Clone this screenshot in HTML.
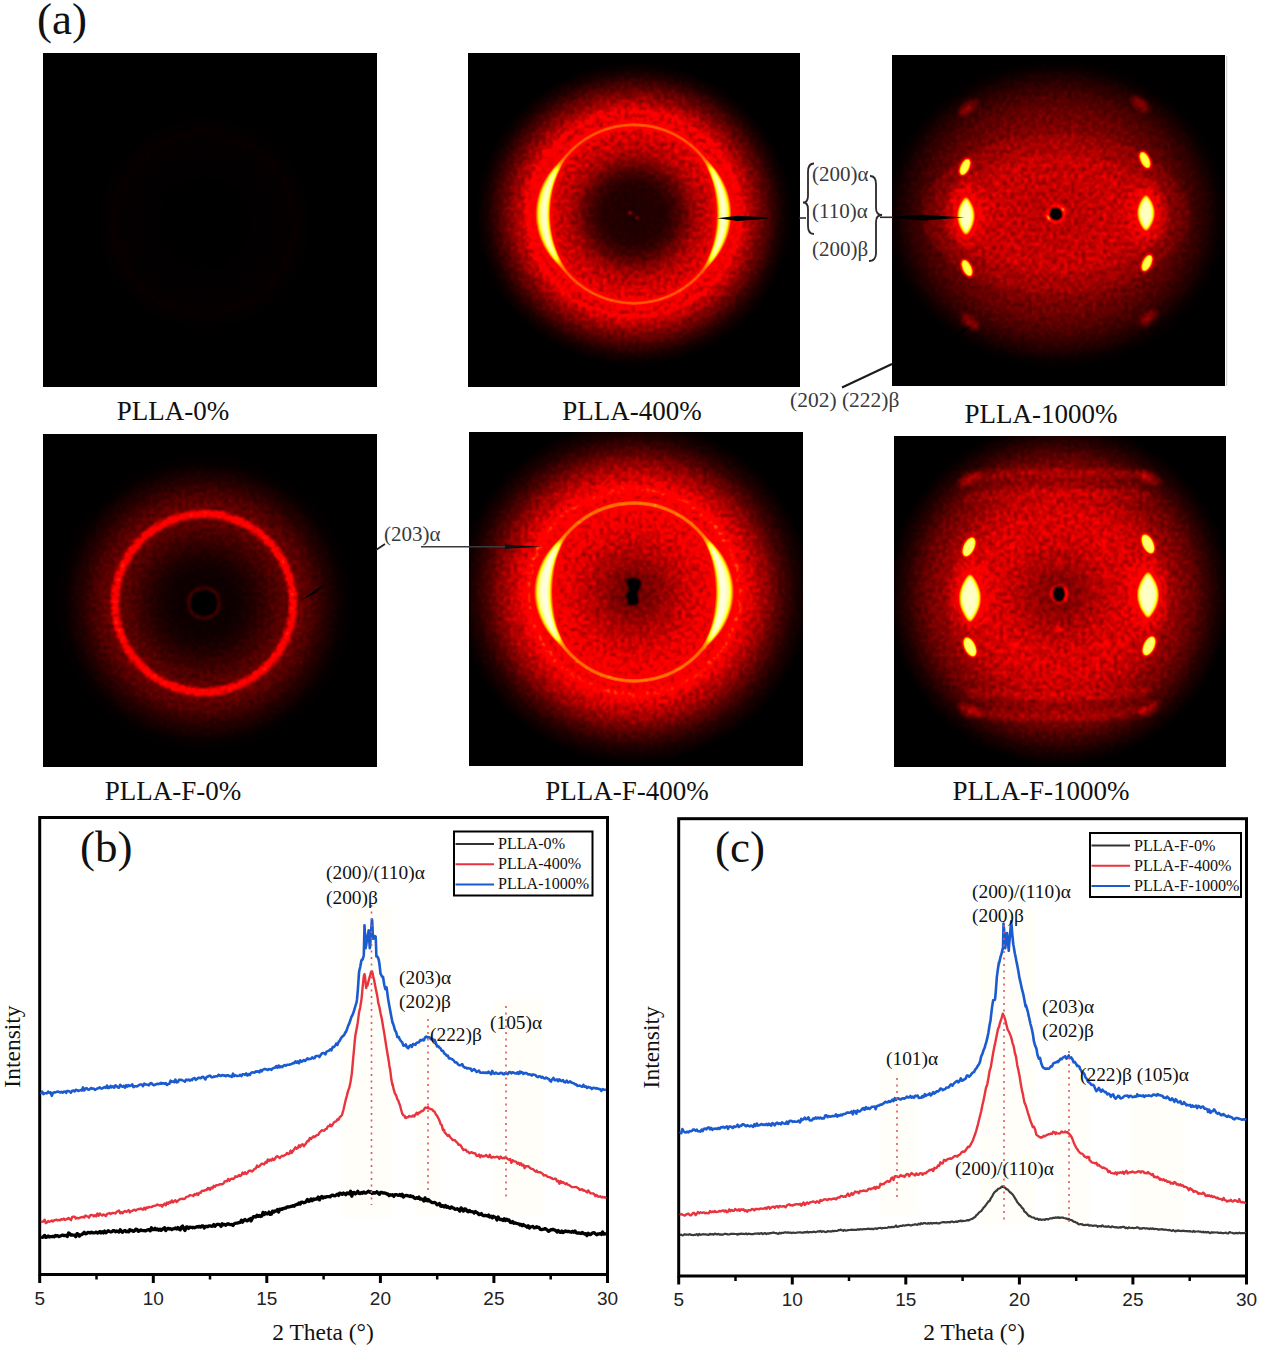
<!DOCTYPE html>
<html><head><meta charset="utf-8"><title>Figure</title>
<style>html,body{margin:0;padding:0;background:#fff;} body{width:1270px;height:1348px;overflow:hidden;font-family:"Liberation Serif",serif;} svg{display:block;}</style>
</head><body>
<svg width="1270" height="1348" viewBox="0 0 1270 1348">
<defs>
<filter id="b1" x="-50%" y="-50%" width="200%" height="200%"><feGaussianBlur stdDeviation="1.2"/></filter>
<filter id="b2" x="-50%" y="-50%" width="200%" height="200%"><feGaussianBlur stdDeviation="2.2"/></filter>
<filter id="b3" x="-50%" y="-50%" width="200%" height="200%"><feGaussianBlur stdDeviation="3.5"/></filter>
<filter id="b6" x="-50%" y="-50%" width="200%" height="200%"><feGaussianBlur stdDeviation="7"/></filter>
<radialGradient id="rg1" gradientUnits="userSpaceOnUse" cx="204" cy="223" r="115"><stop offset="0.0000" stop-color="rgb(0,0,0)"/><stop offset="0.5217" stop-color="rgb(1,1,1)"/><stop offset="0.6957" stop-color="rgb(2,2,2)"/><stop offset="0.8000" stop-color="rgb(3,3,3)"/><stop offset="0.8696" stop-color="rgb(1,1,1)"/><stop offset="1.0000" stop-color="rgb(0,0,0)"/></radialGradient>
<filter id="hot1" filterUnits="userSpaceOnUse" x="43" y="53" width="334" height="334" color-interpolation-filters="sRGB">
<feTurbulence type="fractalNoise" baseFrequency="0.28" numOctaves="2" seed="3" result="t"/>
<feColorMatrix in="t" type="matrix" values="1 0 0 0 0  1 0 0 0 0  1 0 0 0 0  0 0 0 0 1" result="n"/>
<feComposite in="SourceGraphic" in2="n" operator="arithmetic" k1="1.5" k2="0.25" k3="0" k4="0" result="m"/>
<feGaussianBlur in="m" stdDeviation="1.0" result="mb"/>
<feComponentTransfer in="mb">
<feFuncR type="table" tableValues="0.000 0.074 0.147 0.221 0.294 0.368 0.441 0.515 0.588 0.662 0.735 0.809 0.882 0.956 1.000 1.000 1.000 1.000 1.000 1.000 1.000 1.000 1.000 1.000 1.000 1.000 1.000 1.000 1.000 1.000 1.000 1.000 1.000 1.000 1.000 1.000 1.000 1.000 1.000 1.000 1.000"/>
<feFuncG type="table" tableValues="0.000 0.000 0.000 0.000 0.000 0.000 0.000 0.000 0.000 0.000 0.000 0.000 0.000 0.000 0.000 0.000 0.000 0.014 0.083 0.153 0.222 0.292 0.361 0.431 0.500 0.569 0.639 0.708 0.778 0.847 0.917 0.986 1.000 1.000 1.000 1.000 1.000 1.000 1.000 1.000 1.000"/>
<feFuncB type="table" tableValues="0.000 0.000 0.000 0.000 0.000 0.000 0.000 0.000 0.000 0.000 0.000 0.000 0.000 0.000 0.000 0.000 0.000 0.000 0.000 0.000 0.000 0.000 0.000 0.000 0.000 0.000 0.000 0.000 0.000 0.000 0.000 0.000 0.091 0.205 0.318 0.432 0.545 0.659 0.773 0.886 1.000"/>
<feFuncA type="table" tableValues="1 1"/>
</feComponentTransfer>
</filter>
<clipPath id="clip1"><rect x="43" y="53" width="334" height="334"/></clipPath>
<radialGradient id="rg2" gradientUnits="userSpaceOnUse" cx="634" cy="214" r="152" gradientTransform="translate(634 214) scale(1.04 1.0) translate(-634 -214)"><stop offset="0.0000" stop-color="rgb(10,10,10)"/><stop offset="0.1974" stop-color="rgb(13,13,13)"/><stop offset="0.2697" stop-color="rgb(23,23,23)"/><stop offset="0.3289" stop-color="rgb(38,38,38)"/><stop offset="0.3816" stop-color="rgb(54,54,54)"/><stop offset="0.4342" stop-color="rgb(64,64,64)"/><stop offset="0.5197" stop-color="rgb(74,74,74)"/><stop offset="0.5625" stop-color="rgb(82,82,82)"/><stop offset="0.5789" stop-color="rgb(97,97,97)"/><stop offset="0.5954" stop-color="rgb(97,97,97)"/><stop offset="0.6118" stop-color="rgb(82,82,82)"/><stop offset="0.6513" stop-color="rgb(74,74,74)"/><stop offset="0.6743" stop-color="rgb(92,92,92)"/><stop offset="0.6974" stop-color="rgb(71,71,71)"/><stop offset="0.7237" stop-color="rgb(64,64,64)"/><stop offset="0.7697" stop-color="rgb(48,48,48)"/><stop offset="0.8487" stop-color="rgb(26,26,26)"/><stop offset="0.9211" stop-color="rgb(9,9,9)"/><stop offset="1.0000" stop-color="rgb(0,0,0)"/></radialGradient>
<filter id="hot2" filterUnits="userSpaceOnUse" x="468" y="53" width="332" height="334" color-interpolation-filters="sRGB">
<feTurbulence type="fractalNoise" baseFrequency="0.28" numOctaves="2" seed="5" result="t"/>
<feColorMatrix in="t" type="matrix" values="1 0 0 0 0  1 0 0 0 0  1 0 0 0 0  0 0 0 0 1" result="n"/>
<feComposite in="SourceGraphic" in2="n" operator="arithmetic" k1="1.5" k2="0.25" k3="0" k4="0" result="m"/>
<feGaussianBlur in="m" stdDeviation="1.0" result="mb"/>
<feComponentTransfer in="mb">
<feFuncR type="table" tableValues="0.000 0.074 0.147 0.221 0.294 0.368 0.441 0.515 0.588 0.662 0.735 0.809 0.882 0.956 1.000 1.000 1.000 1.000 1.000 1.000 1.000 1.000 1.000 1.000 1.000 1.000 1.000 1.000 1.000 1.000 1.000 1.000 1.000 1.000 1.000 1.000 1.000 1.000 1.000 1.000 1.000"/>
<feFuncG type="table" tableValues="0.000 0.000 0.000 0.000 0.000 0.000 0.000 0.000 0.000 0.000 0.000 0.000 0.000 0.000 0.000 0.000 0.000 0.014 0.083 0.153 0.222 0.292 0.361 0.431 0.500 0.569 0.639 0.708 0.778 0.847 0.917 0.986 1.000 1.000 1.000 1.000 1.000 1.000 1.000 1.000 1.000"/>
<feFuncB type="table" tableValues="0.000 0.000 0.000 0.000 0.000 0.000 0.000 0.000 0.000 0.000 0.000 0.000 0.000 0.000 0.000 0.000 0.000 0.000 0.000 0.000 0.000 0.000 0.000 0.000 0.000 0.000 0.000 0.000 0.000 0.000 0.000 0.000 0.091 0.205 0.318 0.432 0.545 0.659 0.773 0.886 1.000"/>
<feFuncA type="table" tableValues="1 1"/>
</feComponentTransfer>
</filter>
<clipPath id="clip2"><rect x="468" y="53" width="332" height="334"/></clipPath>
<filter id="plain2" filterUnits="userSpaceOnUse" x="468" y="53" width="332" height="334" color-interpolation-filters="sRGB">
<feGaussianBlur in="SourceGraphic" stdDeviation="0.7" result="mb"/>
<feComponentTransfer in="mb">
<feFuncR type="table" tableValues="0.000 0.074 0.147 0.221 0.294 0.368 0.441 0.515 0.588 0.662 0.735 0.809 0.882 0.956 1.000 1.000 1.000 1.000 1.000 1.000 1.000 1.000 1.000 1.000 1.000 1.000 1.000 1.000 1.000 1.000 1.000 1.000 1.000 1.000 1.000 1.000 1.000 1.000 1.000 1.000 1.000"/>
<feFuncG type="table" tableValues="0.000 0.000 0.000 0.000 0.000 0.000 0.000 0.000 0.000 0.000 0.000 0.000 0.000 0.000 0.000 0.000 0.000 0.014 0.083 0.153 0.222 0.292 0.361 0.431 0.500 0.569 0.639 0.708 0.778 0.847 0.917 0.986 1.000 1.000 1.000 1.000 1.000 1.000 1.000 1.000 1.000"/>
<feFuncB type="table" tableValues="0.000 0.000 0.000 0.000 0.000 0.000 0.000 0.000 0.000 0.000 0.000 0.000 0.000 0.000 0.000 0.000 0.000 0.000 0.000 0.000 0.000 0.000 0.000 0.000 0.000 0.000 0.000 0.000 0.000 0.000 0.000 0.000 0.091 0.205 0.318 0.432 0.545 0.659 0.773 0.886 1.000"/>
<feFuncA type="table" tableValues="1 1"/>
</feComponentTransfer>
</filter>
<filter id="b10" x="-30%" y="-30%" width="160%" height="160%"><feGaussianBlur stdDeviation="11"/></filter>
<filter id="b12" x="-40%" y="-40%" width="180%" height="180%"><feGaussianBlur stdDeviation="12"/></filter>
<filter id="b16" x="-40%" y="-40%" width="180%" height="180%"><feGaussianBlur stdDeviation="16"/></filter>
<filter id="b8" x="-30%" y="-30%" width="160%" height="160%"><feGaussianBlur stdDeviation="8"/></filter>
<radialGradient id="cdark"><stop offset="0" stop-color="#000" stop-opacity="0.35"/><stop offset="0.6" stop-color="#000" stop-opacity="0.15"/><stop offset="1" stop-color="#000" stop-opacity="0"/></radialGradient>
<radialGradient id="rg3" gradientUnits="userSpaceOnUse" cx="1056" cy="214" r="160" gradientTransform="translate(1056 214) scale(1.08 0.97) translate(-1056 -214)"><stop offset="0.0000" stop-color="rgb(43,43,43)"/><stop offset="0.1875" stop-color="rgb(48,48,48)"/><stop offset="0.3750" stop-color="rgb(51,51,51)"/><stop offset="0.5625" stop-color="rgb(43,43,43)"/><stop offset="0.6875" stop-color="rgb(33,33,33)"/><stop offset="0.7812" stop-color="rgb(23,23,23)"/><stop offset="0.8625" stop-color="rgb(13,13,13)"/><stop offset="0.9375" stop-color="rgb(4,4,4)"/><stop offset="1.0000" stop-color="rgb(0,0,0)"/></radialGradient>
<filter id="hot3" filterUnits="userSpaceOnUse" x="892" y="55" width="333" height="331" color-interpolation-filters="sRGB">
<feTurbulence type="fractalNoise" baseFrequency="0.28" numOctaves="2" seed="9" result="t"/>
<feColorMatrix in="t" type="matrix" values="1 0 0 0 0  1 0 0 0 0  1 0 0 0 0  0 0 0 0 1" result="n"/>
<feComposite in="SourceGraphic" in2="n" operator="arithmetic" k1="1.5" k2="0.25" k3="0" k4="0" result="m"/>
<feGaussianBlur in="m" stdDeviation="1.0" result="mb"/>
<feComponentTransfer in="mb">
<feFuncR type="table" tableValues="0.000 0.074 0.147 0.221 0.294 0.368 0.441 0.515 0.588 0.662 0.735 0.809 0.882 0.956 1.000 1.000 1.000 1.000 1.000 1.000 1.000 1.000 1.000 1.000 1.000 1.000 1.000 1.000 1.000 1.000 1.000 1.000 1.000 1.000 1.000 1.000 1.000 1.000 1.000 1.000 1.000"/>
<feFuncG type="table" tableValues="0.000 0.000 0.000 0.000 0.000 0.000 0.000 0.000 0.000 0.000 0.000 0.000 0.000 0.000 0.000 0.000 0.000 0.014 0.083 0.153 0.222 0.292 0.361 0.431 0.500 0.569 0.639 0.708 0.778 0.847 0.917 0.986 1.000 1.000 1.000 1.000 1.000 1.000 1.000 1.000 1.000"/>
<feFuncB type="table" tableValues="0.000 0.000 0.000 0.000 0.000 0.000 0.000 0.000 0.000 0.000 0.000 0.000 0.000 0.000 0.000 0.000 0.000 0.000 0.000 0.000 0.000 0.000 0.000 0.000 0.000 0.000 0.000 0.000 0.000 0.000 0.000 0.000 0.091 0.205 0.318 0.432 0.545 0.659 0.773 0.886 1.000"/>
<feFuncA type="table" tableValues="1 1"/>
</feComponentTransfer>
</filter>
<clipPath id="clip3"><rect x="892" y="55" width="333" height="331"/></clipPath>
<filter id="plain3" filterUnits="userSpaceOnUse" x="892" y="55" width="333" height="331" color-interpolation-filters="sRGB">
<feGaussianBlur in="SourceGraphic" stdDeviation="0.7" result="mb"/>
<feComponentTransfer in="mb">
<feFuncR type="table" tableValues="0.000 0.074 0.147 0.221 0.294 0.368 0.441 0.515 0.588 0.662 0.735 0.809 0.882 0.956 1.000 1.000 1.000 1.000 1.000 1.000 1.000 1.000 1.000 1.000 1.000 1.000 1.000 1.000 1.000 1.000 1.000 1.000 1.000 1.000 1.000 1.000 1.000 1.000 1.000 1.000 1.000"/>
<feFuncG type="table" tableValues="0.000 0.000 0.000 0.000 0.000 0.000 0.000 0.000 0.000 0.000 0.000 0.000 0.000 0.000 0.000 0.000 0.000 0.014 0.083 0.153 0.222 0.292 0.361 0.431 0.500 0.569 0.639 0.708 0.778 0.847 0.917 0.986 1.000 1.000 1.000 1.000 1.000 1.000 1.000 1.000 1.000"/>
<feFuncB type="table" tableValues="0.000 0.000 0.000 0.000 0.000 0.000 0.000 0.000 0.000 0.000 0.000 0.000 0.000 0.000 0.000 0.000 0.000 0.000 0.000 0.000 0.000 0.000 0.000 0.000 0.000 0.000 0.000 0.000 0.000 0.000 0.000 0.000 0.091 0.205 0.318 0.432 0.545 0.659 0.773 0.886 1.000"/>
<feFuncA type="table" tableValues="1 1"/>
</feComponentTransfer>
</filter>
<radialGradient id="rg4" gradientUnits="userSpaceOnUse" cx="204" cy="603" r="150"><stop offset="0.0000" stop-color="rgb(0,0,0)"/><stop offset="0.0800" stop-color="rgb(0,0,0)"/><stop offset="0.1000" stop-color="rgb(26,26,26)"/><stop offset="0.1200" stop-color="rgb(5,5,5)"/><stop offset="0.2000" stop-color="rgb(5,5,5)"/><stop offset="0.3000" stop-color="rgb(9,9,9)"/><stop offset="0.4000" stop-color="rgb(18,18,18)"/><stop offset="0.5000" stop-color="rgb(28,28,28)"/><stop offset="0.5567" stop-color="rgb(33,33,33)"/><stop offset="0.5767" stop-color="rgb(84,84,84)"/><stop offset="0.5933" stop-color="rgb(105,105,105)"/><stop offset="0.6100" stop-color="rgb(84,84,84)"/><stop offset="0.6300" stop-color="rgb(36,36,36)"/><stop offset="0.7200" stop-color="rgb(26,26,26)"/><stop offset="0.8133" stop-color="rgb(13,13,13)"/><stop offset="0.9200" stop-color="rgb(3,3,3)"/><stop offset="1.0000" stop-color="rgb(0,0,0)"/></radialGradient>
<filter id="hot4" filterUnits="userSpaceOnUse" x="43" y="434" width="334" height="333" color-interpolation-filters="sRGB">
<feTurbulence type="fractalNoise" baseFrequency="0.28" numOctaves="2" seed="11" result="t"/>
<feColorMatrix in="t" type="matrix" values="1 0 0 0 0  1 0 0 0 0  1 0 0 0 0  0 0 0 0 1" result="n"/>
<feComposite in="SourceGraphic" in2="n" operator="arithmetic" k1="1.5" k2="0.25" k3="0" k4="0" result="m"/>
<feGaussianBlur in="m" stdDeviation="1.0" result="mb"/>
<feComponentTransfer in="mb">
<feFuncR type="table" tableValues="0.000 0.074 0.147 0.221 0.294 0.368 0.441 0.515 0.588 0.662 0.735 0.809 0.882 0.956 1.000 1.000 1.000 1.000 1.000 1.000 1.000 1.000 1.000 1.000 1.000 1.000 1.000 1.000 1.000 1.000 1.000 1.000 1.000 1.000 1.000 1.000 1.000 1.000 1.000 1.000 1.000"/>
<feFuncG type="table" tableValues="0.000 0.000 0.000 0.000 0.000 0.000 0.000 0.000 0.000 0.000 0.000 0.000 0.000 0.000 0.000 0.000 0.000 0.014 0.083 0.153 0.222 0.292 0.361 0.431 0.500 0.569 0.639 0.708 0.778 0.847 0.917 0.986 1.000 1.000 1.000 1.000 1.000 1.000 1.000 1.000 1.000"/>
<feFuncB type="table" tableValues="0.000 0.000 0.000 0.000 0.000 0.000 0.000 0.000 0.000 0.000 0.000 0.000 0.000 0.000 0.000 0.000 0.000 0.000 0.000 0.000 0.000 0.000 0.000 0.000 0.000 0.000 0.000 0.000 0.000 0.000 0.000 0.000 0.091 0.205 0.318 0.432 0.545 0.659 0.773 0.886 1.000"/>
<feFuncA type="table" tableValues="1 1"/>
</feComponentTransfer>
</filter>
<clipPath id="clip4"><rect x="43" y="434" width="334" height="333"/></clipPath>
<radialGradient id="rg5" gradientUnits="userSpaceOnUse" cx="634" cy="592" r="172" gradientTransform="translate(634 592) scale(1.03 1.0) translate(-634 -592)"><stop offset="0.0000" stop-color="rgb(36,36,36)"/><stop offset="0.1163" stop-color="rgb(43,43,43)"/><stop offset="0.1628" stop-color="rgb(51,51,51)"/><stop offset="0.2326" stop-color="rgb(61,61,61)"/><stop offset="0.3081" stop-color="rgb(71,71,71)"/><stop offset="0.4186" stop-color="rgb(82,82,82)"/><stop offset="0.4942" stop-color="rgb(84,84,84)"/><stop offset="0.5087" stop-color="rgb(102,102,102)"/><stop offset="0.5203" stop-color="rgb(102,102,102)"/><stop offset="0.5349" stop-color="rgb(87,87,87)"/><stop offset="0.5698" stop-color="rgb(84,84,84)"/><stop offset="0.5959" stop-color="rgb(115,115,115)"/><stop offset="0.6221" stop-color="rgb(84,84,84)"/><stop offset="0.6744" stop-color="rgb(69,69,69)"/><stop offset="0.7442" stop-color="rgb(51,51,51)"/><stop offset="0.8198" stop-color="rgb(28,28,28)"/><stop offset="0.9070" stop-color="rgb(10,10,10)"/><stop offset="1.0000" stop-color="rgb(0,0,0)"/></radialGradient>
<filter id="hot5" filterUnits="userSpaceOnUse" x="469" y="432" width="334" height="334" color-interpolation-filters="sRGB">
<feTurbulence type="fractalNoise" baseFrequency="0.28" numOctaves="2" seed="13" result="t"/>
<feColorMatrix in="t" type="matrix" values="1 0 0 0 0  1 0 0 0 0  1 0 0 0 0  0 0 0 0 1" result="n"/>
<feComposite in="SourceGraphic" in2="n" operator="arithmetic" k1="1.5" k2="0.25" k3="0" k4="0" result="m"/>
<feGaussianBlur in="m" stdDeviation="1.0" result="mb"/>
<feComponentTransfer in="mb">
<feFuncR type="table" tableValues="0.000 0.074 0.147 0.221 0.294 0.368 0.441 0.515 0.588 0.662 0.735 0.809 0.882 0.956 1.000 1.000 1.000 1.000 1.000 1.000 1.000 1.000 1.000 1.000 1.000 1.000 1.000 1.000 1.000 1.000 1.000 1.000 1.000 1.000 1.000 1.000 1.000 1.000 1.000 1.000 1.000"/>
<feFuncG type="table" tableValues="0.000 0.000 0.000 0.000 0.000 0.000 0.000 0.000 0.000 0.000 0.000 0.000 0.000 0.000 0.000 0.000 0.000 0.014 0.083 0.153 0.222 0.292 0.361 0.431 0.500 0.569 0.639 0.708 0.778 0.847 0.917 0.986 1.000 1.000 1.000 1.000 1.000 1.000 1.000 1.000 1.000"/>
<feFuncB type="table" tableValues="0.000 0.000 0.000 0.000 0.000 0.000 0.000 0.000 0.000 0.000 0.000 0.000 0.000 0.000 0.000 0.000 0.000 0.000 0.000 0.000 0.000 0.000 0.000 0.000 0.000 0.000 0.000 0.000 0.000 0.000 0.000 0.000 0.091 0.205 0.318 0.432 0.545 0.659 0.773 0.886 1.000"/>
<feFuncA type="table" tableValues="1 1"/>
</feComponentTransfer>
</filter>
<clipPath id="clip5"><rect x="469" y="432" width="334" height="334"/></clipPath>
<filter id="plain5" filterUnits="userSpaceOnUse" x="469" y="432" width="334" height="334" color-interpolation-filters="sRGB">
<feGaussianBlur in="SourceGraphic" stdDeviation="0.7" result="mb"/>
<feComponentTransfer in="mb">
<feFuncR type="table" tableValues="0.000 0.074 0.147 0.221 0.294 0.368 0.441 0.515 0.588 0.662 0.735 0.809 0.882 0.956 1.000 1.000 1.000 1.000 1.000 1.000 1.000 1.000 1.000 1.000 1.000 1.000 1.000 1.000 1.000 1.000 1.000 1.000 1.000 1.000 1.000 1.000 1.000 1.000 1.000 1.000 1.000"/>
<feFuncG type="table" tableValues="0.000 0.000 0.000 0.000 0.000 0.000 0.000 0.000 0.000 0.000 0.000 0.000 0.000 0.000 0.000 0.000 0.000 0.014 0.083 0.153 0.222 0.292 0.361 0.431 0.500 0.569 0.639 0.708 0.778 0.847 0.917 0.986 1.000 1.000 1.000 1.000 1.000 1.000 1.000 1.000 1.000"/>
<feFuncB type="table" tableValues="0.000 0.000 0.000 0.000 0.000 0.000 0.000 0.000 0.000 0.000 0.000 0.000 0.000 0.000 0.000 0.000 0.000 0.000 0.000 0.000 0.000 0.000 0.000 0.000 0.000 0.000 0.000 0.000 0.000 0.000 0.000 0.000 0.091 0.205 0.318 0.432 0.545 0.659 0.773 0.886 1.000"/>
<feFuncA type="table" tableValues="1 1"/>
</feComponentTransfer>
</filter>
<radialGradient id="rg6" gradientUnits="userSpaceOnUse" cx="1059" cy="594" r="172"><stop offset="0.0000" stop-color="rgb(36,36,36)"/><stop offset="0.0872" stop-color="rgb(46,46,46)"/><stop offset="0.2035" stop-color="rgb(59,59,59)"/><stop offset="0.3198" stop-color="rgb(71,71,71)"/><stop offset="0.4651" stop-color="rgb(74,74,74)"/><stop offset="0.5814" stop-color="rgb(64,64,64)"/><stop offset="0.6802" stop-color="rgb(48,48,48)"/><stop offset="0.7733" stop-color="rgb(36,36,36)"/><stop offset="0.8547" stop-color="rgb(20,20,20)"/><stop offset="0.9186" stop-color="rgb(9,9,9)"/><stop offset="1.0000" stop-color="rgb(0,0,0)"/></radialGradient>
<filter id="hot6" filterUnits="userSpaceOnUse" x="894" y="436" width="332" height="331" color-interpolation-filters="sRGB">
<feTurbulence type="fractalNoise" baseFrequency="0.28" numOctaves="2" seed="17" result="t"/>
<feColorMatrix in="t" type="matrix" values="1 0 0 0 0  1 0 0 0 0  1 0 0 0 0  0 0 0 0 1" result="n"/>
<feComposite in="SourceGraphic" in2="n" operator="arithmetic" k1="1.5" k2="0.25" k3="0" k4="0" result="m"/>
<feGaussianBlur in="m" stdDeviation="1.0" result="mb"/>
<feComponentTransfer in="mb">
<feFuncR type="table" tableValues="0.000 0.074 0.147 0.221 0.294 0.368 0.441 0.515 0.588 0.662 0.735 0.809 0.882 0.956 1.000 1.000 1.000 1.000 1.000 1.000 1.000 1.000 1.000 1.000 1.000 1.000 1.000 1.000 1.000 1.000 1.000 1.000 1.000 1.000 1.000 1.000 1.000 1.000 1.000 1.000 1.000"/>
<feFuncG type="table" tableValues="0.000 0.000 0.000 0.000 0.000 0.000 0.000 0.000 0.000 0.000 0.000 0.000 0.000 0.000 0.000 0.000 0.000 0.014 0.083 0.153 0.222 0.292 0.361 0.431 0.500 0.569 0.639 0.708 0.778 0.847 0.917 0.986 1.000 1.000 1.000 1.000 1.000 1.000 1.000 1.000 1.000"/>
<feFuncB type="table" tableValues="0.000 0.000 0.000 0.000 0.000 0.000 0.000 0.000 0.000 0.000 0.000 0.000 0.000 0.000 0.000 0.000 0.000 0.000 0.000 0.000 0.000 0.000 0.000 0.000 0.000 0.000 0.000 0.000 0.000 0.000 0.000 0.000 0.091 0.205 0.318 0.432 0.545 0.659 0.773 0.886 1.000"/>
<feFuncA type="table" tableValues="1 1"/>
</feComponentTransfer>
</filter>
<clipPath id="clip6"><rect x="894" y="436" width="332" height="331"/></clipPath>
<filter id="plain6" filterUnits="userSpaceOnUse" x="894" y="436" width="332" height="331" color-interpolation-filters="sRGB">
<feGaussianBlur in="SourceGraphic" stdDeviation="0.7" result="mb"/>
<feComponentTransfer in="mb">
<feFuncR type="table" tableValues="0.000 0.074 0.147 0.221 0.294 0.368 0.441 0.515 0.588 0.662 0.735 0.809 0.882 0.956 1.000 1.000 1.000 1.000 1.000 1.000 1.000 1.000 1.000 1.000 1.000 1.000 1.000 1.000 1.000 1.000 1.000 1.000 1.000 1.000 1.000 1.000 1.000 1.000 1.000 1.000 1.000"/>
<feFuncG type="table" tableValues="0.000 0.000 0.000 0.000 0.000 0.000 0.000 0.000 0.000 0.000 0.000 0.000 0.000 0.000 0.000 0.000 0.000 0.014 0.083 0.153 0.222 0.292 0.361 0.431 0.500 0.569 0.639 0.708 0.778 0.847 0.917 0.986 1.000 1.000 1.000 1.000 1.000 1.000 1.000 1.000 1.000"/>
<feFuncB type="table" tableValues="0.000 0.000 0.000 0.000 0.000 0.000 0.000 0.000 0.000 0.000 0.000 0.000 0.000 0.000 0.000 0.000 0.000 0.000 0.000 0.000 0.000 0.000 0.000 0.000 0.000 0.000 0.000 0.000 0.000 0.000 0.000 0.000 0.091 0.205 0.318 0.432 0.545 0.659 0.773 0.886 1.000"/>
<feFuncA type="table" tableValues="1 1"/>
</feComponentTransfer>
</filter>
</defs>
<rect x="0" y="0" width="1270" height="1348" fill="#fff"/>
<g clip-path="url(#clip1)" style="isolation:isolate"><g filter="url(#hot1)"><rect x="43" y="53" width="334" height="334" fill="#000"/><rect x="43" y="53" width="334" height="334" fill="url(#rg1)" /></g></g>
<g clip-path="url(#clip2)" style="isolation:isolate"><g filter="url(#hot2)"><rect x="468" y="53" width="332" height="334" fill="#000"/><rect x="468" y="53" width="332" height="334" fill="url(#rg2)" />
<circle cx="630" cy="213" r="1.6" fill="rgb(70,70,70)"/><circle cx="637" cy="218" r="1.6" fill="rgb(70,70,70)"/></g><g filter="url(#plain2)" style="mix-blend-mode:screen"><rect x="468" y="53" width="332" height="334" fill="#000"/><circle cx="634" cy="214" r="89.2" fill="none" stroke="rgb(140,140,140)" stroke-width="5.5" filter="url(#b1)" style="mix-blend-mode:screen"/>
<path d="M563.9,159.2 L559.8,161.2 L556.5,163.8 L553.4,166.7 L550.6,169.9 L548.0,173.3 L545.6,176.8 L543.4,180.6 L541.5,184.4 L539.8,188.4 L538.3,192.5 L537.1,196.7 L536.2,201.0 L535.5,205.3 L535.1,209.6 L535.0,214.0 L535.1,218.4 L535.5,222.7 L536.2,227.0 L537.1,231.3 L538.3,235.5 L539.8,239.6 L541.5,243.6 L543.4,247.4 L545.6,251.2 L548.0,254.7 L550.6,258.1 L553.4,261.3 L556.5,264.2 L559.8,266.8 L563.9,268.8 L563.9,268.8 L562.5,264.9 L561.0,261.3 L559.5,257.7 L558.1,254.1 L556.9,250.5 L555.8,246.9 L554.8,243.3 L553.9,239.6 L553.1,236.0 L552.5,232.3 L551.9,228.7 L551.5,225.0 L551.2,221.3 L551.1,217.7 L551.0,214.0 L551.1,210.3 L551.2,206.7 L551.5,203.0 L551.9,199.3 L552.5,195.7 L553.1,192.0 L553.9,188.4 L554.8,184.7 L555.8,181.1 L556.9,177.5 L558.1,173.9 L559.5,170.3 L561.0,166.7 L562.5,163.1 L563.9,159.2Z" fill="rgb(128,128,128)" filter="url(#b3)" style="mix-blend-mode:screen"/>
<path d="M704.1,159.2 L708.0,161.3 L711.2,164.0 L714.2,167.0 L716.9,170.2 L719.4,173.5 L721.8,177.1 L723.9,180.8 L725.7,184.7 L727.4,188.6 L728.8,192.7 L729.9,196.9 L730.8,201.1 L731.5,205.4 L731.9,209.7 L732.0,214.0 L731.9,218.3 L731.5,222.6 L730.8,226.9 L729.9,231.1 L728.8,235.3 L727.4,239.4 L725.7,243.3 L723.9,247.2 L721.8,250.9 L719.4,254.5 L716.9,257.8 L714.2,261.0 L711.2,264.0 L708.0,266.7 L704.1,268.8 L704.1,268.8 L705.3,264.8 L706.7,261.1 L708.1,257.5 L709.4,253.9 L710.5,250.2 L711.6,246.6 L712.5,243.0 L713.4,239.4 L714.1,235.8 L714.7,232.1 L715.1,228.5 L715.5,224.9 L715.8,221.3 L715.9,217.6 L716.0,214.0 L715.9,210.4 L715.8,206.7 L715.5,203.1 L715.1,199.5 L714.7,195.9 L714.1,192.2 L713.4,188.6 L712.5,185.0 L711.6,181.4 L710.5,177.8 L709.4,174.1 L708.1,170.5 L706.7,166.9 L705.3,163.2 L704.1,159.2Z" fill="rgb(128,128,128)" filter="url(#b3)" style="mix-blend-mode:screen"/>
<path d="M558.9,165.3 L555.8,167.4 L553.2,170.0 L550.9,172.7 L548.7,175.7 L546.7,178.7 L544.9,181.9 L543.3,185.2 L541.8,188.6 L540.6,192.1 L539.5,195.6 L538.6,199.2 L537.9,202.9 L537.4,206.6 L537.1,210.3 L537.0,214.0 L537.1,217.7 L537.4,221.4 L537.9,225.1 L538.6,228.8 L539.5,232.4 L540.6,235.9 L541.8,239.4 L543.3,242.8 L544.9,246.1 L546.7,249.3 L548.7,252.3 L550.9,255.3 L553.2,258.0 L555.8,260.6 L558.9,262.7 L558.9,262.7 L557.9,259.4 L556.7,256.1 L555.6,252.9 L554.6,249.7 L553.6,246.5 L552.7,243.3 L551.9,240.0 L551.2,236.8 L550.6,233.6 L550.1,230.3 L549.7,227.0 L549.4,223.8 L549.2,220.5 L549.0,217.3 L549.0,214.0 L549.0,210.7 L549.2,207.5 L549.4,204.2 L549.7,201.0 L550.1,197.7 L550.6,194.4 L551.2,191.2 L551.9,188.0 L552.7,184.7 L553.6,181.5 L554.6,178.3 L555.6,175.1 L556.7,171.9 L557.9,168.6 L558.9,165.3Z" fill="rgb(209,209,209)" filter="url(#b2)" style="mix-blend-mode:screen"/>
<path d="M708.6,165.5 L711.7,167.7 L714.2,170.3 L716.5,173.1 L718.6,176.0 L720.5,179.0 L722.3,182.2 L723.9,185.5 L725.3,188.9 L726.5,192.3 L727.6,195.8 L728.4,199.4 L729.1,203.0 L729.6,206.6 L729.9,210.3 L730.0,214.0 L729.9,217.7 L729.6,221.4 L729.1,225.0 L728.4,228.6 L727.6,232.2 L726.5,235.7 L725.3,239.1 L723.9,242.5 L722.3,245.8 L720.5,249.0 L718.6,252.0 L716.5,254.9 L714.2,257.7 L711.7,260.3 L708.6,262.5 L708.6,262.5 L709.6,259.0 L710.7,255.8 L711.7,252.6 L712.7,249.4 L713.7,246.2 L714.5,243.0 L715.2,239.8 L715.9,236.6 L716.5,233.3 L716.9,230.1 L717.3,226.9 L717.6,223.7 L717.8,220.5 L718.0,217.2 L718.0,214.0 L718.0,210.8 L717.8,207.5 L717.6,204.3 L717.3,201.1 L716.9,197.9 L716.5,194.7 L715.9,191.4 L715.2,188.2 L714.5,185.0 L713.7,181.8 L712.7,178.6 L711.7,175.4 L710.7,172.2 L709.6,169.0 L708.6,165.5Z" fill="rgb(209,209,209)" filter="url(#b2)" style="mix-blend-mode:screen"/><path d="M561.2,141.2 A103,103 0 0 0 561.2,286.8" fill="none" stroke="rgb(102,102,102)" stroke-width="3" filter="url(#b2)" style="mix-blend-mode:screen"/><path d="M706.8,141.2 A103,103 0 0 1 706.8,286.8" fill="none" stroke="rgb(102,102,102)" stroke-width="3" filter="url(#b2)" style="mix-blend-mode:screen"/></g></g>
<g clip-path="url(#clip3)" style="isolation:isolate"><g filter="url(#hot3)"><rect x="892" y="55" width="333" height="331" fill="#000"/><rect x="892" y="55" width="333" height="331" fill="url(#rg3)" />
<ellipse cx="1056" cy="214" rx="125" ry="70" fill="rgb(18,18,18)" filter="url(#b16)" style="mix-blend-mode:screen"/>
<ellipse cx="966" cy="214" rx="16" ry="30" fill="rgb(36,36,36)" filter="url(#b6)" style="mix-blend-mode:screen"/>
<ellipse cx="1146" cy="214" rx="16" ry="30" fill="rgb(36,36,36)" filter="url(#b6)" style="mix-blend-mode:screen"/>
<circle cx="1050" cy="217" r="3" fill="rgb(128,128,128)" filter="url(#b1)" style="mix-blend-mode:screen"/>
<circle cx="1063" cy="211" r="3" fill="rgb(128,128,128)" filter="url(#b1)" style="mix-blend-mode:screen"/>
<ellipse cx="968" cy="108" rx="11" ry="5" transform="rotate(-40 968 108)" fill="rgb(36,36,36)" filter="url(#b2)" style="mix-blend-mode:screen"/>
<ellipse cx="1140" cy="104" rx="11" ry="5" transform="rotate(40 1140 104)" fill="rgb(36,36,36)" filter="url(#b2)" style="mix-blend-mode:screen"/>
<ellipse cx="970" cy="322" rx="11" ry="5" transform="rotate(40 970 322)" fill="rgb(36,36,36)" filter="url(#b2)" style="mix-blend-mode:screen"/>
<ellipse cx="1148" cy="318" rx="11" ry="5" transform="rotate(-40 1148 318)" fill="rgb(36,36,36)" filter="url(#b2)" style="mix-blend-mode:screen"/>

<circle cx="1056" cy="214" r="8.5" fill="rgb(150,150,150)" filter="url(#b1)" style="mix-blend-mode:screen"/>
<circle cx="1056" cy="214" r="7" fill="#000"/></g><g filter="url(#plain3)" style="mix-blend-mode:screen"><rect x="892" y="55" width="333" height="331" fill="#000"/><path d="M966,195 Q984.125,216 966,237 Q947.875,216 966,195 Z" transform="rotate(0 966 216)" fill="rgb(242,242,242)" filter="url(#b2)" style="mix-blend-mode:screen"/>
<path d="M1146,193 Q1164.125,213 1146,233 Q1127.875,213 1146,193 Z" transform="rotate(0 1146 213)" fill="rgb(242,242,242)" filter="url(#b2)" style="mix-blend-mode:screen"/>
<ellipse cx="965" cy="167" rx="5" ry="9.5" transform="rotate(25 965 167)" fill="rgb(217,217,217)" filter="url(#b1)" style="mix-blend-mode:screen"/>
<ellipse cx="967" cy="268" rx="5" ry="9.5" transform="rotate(-25 967 268)" fill="rgb(217,217,217)" filter="url(#b1)" style="mix-blend-mode:screen"/>
<ellipse cx="1145" cy="160" rx="5" ry="9.5" transform="rotate(-25 1145 160)" fill="rgb(217,217,217)" filter="url(#b1)" style="mix-blend-mode:screen"/>
<ellipse cx="1147" cy="263" rx="5" ry="9.5" transform="rotate(25 1147 263)" fill="rgb(217,217,217)" filter="url(#b1)" style="mix-blend-mode:screen"/></g></g>
<g clip-path="url(#clip4)" style="isolation:isolate"><g filter="url(#hot4)"><rect x="43" y="434" width="334" height="333" fill="#000"/><rect x="43" y="434" width="334" height="333" fill="url(#rg4)" />
<rect x="192" y="592" width="24" height="23" rx="7" fill="#000"/></g></g>
<g clip-path="url(#clip5)" style="isolation:isolate"><g filter="url(#hot5)"><rect x="469" y="432" width="334" height="334" fill="#000"/><rect x="469" y="432" width="334" height="334" fill="url(#rg5)" />
<path d="M626,580 Q634,575 641,581 L640,589 L637,593 L639,603 Q634,608 628,604 L626,594 L629,589 Z" fill="#000"/></g><g filter="url(#plain5)" style="mix-blend-mode:screen"><rect x="469" y="432" width="334" height="334" fill="#000"/><circle cx="634" cy="592" r="89" fill="none" stroke="rgb(148,148,148)" stroke-width="5.8" filter="url(#b1)" style="mix-blend-mode:screen"/>
<path d="M563.9,537.2 L559.7,539.0 L556.2,541.6 L553.1,544.5 L550.1,547.7 L547.4,551.0 L545.0,554.6 L542.7,558.3 L540.7,562.2 L539.0,566.2 L537.5,570.3 L536.2,574.5 L535.3,578.8 L534.6,583.2 L534.1,587.6 L534.0,592.0 L534.1,596.4 L534.6,600.8 L535.3,605.2 L536.2,609.5 L537.5,613.7 L539.0,617.8 L540.7,621.8 L542.7,625.7 L545.0,629.4 L547.4,633.0 L550.1,636.3 L553.1,639.5 L556.2,642.4 L559.7,645.0 L563.9,646.8 L563.9,646.8 L562.9,642.7 L561.5,638.9 L560.3,635.3 L559.1,631.6 L558.0,628.0 L557.0,624.4 L556.2,620.7 L555.4,617.1 L554.8,613.5 L554.2,609.9 L553.8,606.3 L553.4,602.7 L553.2,599.2 L553.0,595.6 L553.0,592.0 L553.0,588.4 L553.2,584.8 L553.4,581.3 L553.8,577.7 L554.2,574.1 L554.8,570.5 L555.4,566.9 L556.2,563.3 L557.0,559.6 L558.0,556.0 L559.1,552.4 L560.3,548.7 L561.5,545.1 L562.9,541.3 L563.9,537.2Z" fill="rgb(128,128,128)" filter="url(#b3)" style="mix-blend-mode:screen"/>
<path d="M704.1,537.2 L708.3,539.0 L711.8,541.6 L714.9,544.5 L717.9,547.7 L720.6,551.0 L723.0,554.6 L725.3,558.3 L727.3,562.2 L729.0,566.2 L730.5,570.3 L731.8,574.5 L732.7,578.8 L733.4,583.2 L733.9,587.6 L734.0,592.0 L733.9,596.4 L733.4,600.8 L732.7,605.2 L731.8,609.5 L730.5,613.7 L729.0,617.8 L727.3,621.8 L725.3,625.7 L723.0,629.4 L720.6,633.0 L717.9,636.3 L714.9,639.5 L711.8,642.4 L708.3,645.0 L704.1,646.8 L704.1,646.8 L705.1,642.7 L706.5,638.9 L707.7,635.3 L708.9,631.6 L710.0,628.0 L711.0,624.4 L711.8,620.7 L712.6,617.1 L713.2,613.5 L713.8,609.9 L714.2,606.3 L714.6,602.7 L714.8,599.2 L715.0,595.6 L715.0,592.0 L715.0,588.4 L714.8,584.8 L714.6,581.3 L714.2,577.7 L713.8,574.1 L713.2,570.5 L712.6,566.9 L711.8,563.3 L711.0,559.6 L710.0,556.0 L708.9,552.4 L707.7,548.7 L706.5,545.1 L705.1,541.3 L704.1,537.2Z" fill="rgb(128,128,128)" filter="url(#b3)" style="mix-blend-mode:screen"/>
<path d="M560.2,542.2 L556.7,544.2 L553.9,546.7 L551.3,549.5 L548.9,552.5 L546.8,555.6 L544.8,558.8 L543.0,562.2 L541.4,565.7 L540.0,569.2 L538.8,572.9 L537.8,576.6 L537.0,580.4 L536.4,584.3 L536.1,588.1 L536.0,592.0 L536.1,595.9 L536.4,599.7 L537.0,603.6 L537.8,607.4 L538.8,611.1 L540.0,614.8 L541.4,618.3 L543.0,621.8 L544.8,625.2 L546.8,628.4 L548.9,631.5 L551.3,634.5 L553.9,637.3 L556.7,639.8 L560.2,641.8 L560.2,641.8 L559.4,638.2 L558.3,634.8 L557.2,631.5 L556.2,628.2 L555.3,624.9 L554.5,621.6 L553.7,618.3 L553.1,615.0 L552.5,611.7 L552.1,608.4 L551.7,605.1 L551.4,601.9 L551.2,598.6 L551.0,595.3 L551.0,592.0 L551.0,588.7 L551.2,585.4 L551.4,582.1 L551.7,578.9 L552.1,575.6 L552.5,572.3 L553.1,569.0 L553.7,565.7 L554.5,562.4 L555.3,559.1 L556.2,555.8 L557.2,552.5 L558.3,549.2 L559.4,545.8 L560.2,542.2Z" fill="rgb(224,224,224)" filter="url(#b2)" style="mix-blend-mode:screen"/>
<path d="M707.8,542.2 L711.3,544.2 L714.1,546.7 L716.7,549.5 L719.1,552.5 L721.2,555.6 L723.2,558.8 L725.0,562.2 L726.6,565.7 L728.0,569.2 L729.2,572.9 L730.2,576.6 L731.0,580.4 L731.6,584.3 L731.9,588.1 L732.0,592.0 L731.9,595.9 L731.6,599.7 L731.0,603.6 L730.2,607.4 L729.2,611.1 L728.0,614.8 L726.6,618.3 L725.0,621.8 L723.2,625.2 L721.2,628.4 L719.1,631.5 L716.7,634.5 L714.1,637.3 L711.3,639.8 L707.8,641.8 L707.8,641.8 L708.6,638.2 L709.7,634.8 L710.8,631.5 L711.8,628.2 L712.7,624.9 L713.5,621.6 L714.3,618.3 L714.9,615.0 L715.5,611.7 L715.9,608.4 L716.3,605.1 L716.6,601.9 L716.8,598.6 L717.0,595.3 L717.0,592.0 L717.0,588.7 L716.8,585.4 L716.6,582.1 L716.3,578.9 L715.9,575.6 L715.5,572.3 L714.9,569.0 L714.3,565.7 L713.5,562.4 L712.7,559.1 L711.8,555.8 L710.8,552.5 L709.7,549.2 L708.6,545.8 L707.8,542.2Z" fill="rgb(224,224,224)" filter="url(#b2)" style="mix-blend-mode:screen"/><path d="M561.2,519.2 A103,103 0 0 0 561.2,664.8" fill="none" stroke="rgb(115,115,115)" stroke-width="3" filter="url(#b2)" style="mix-blend-mode:screen"/><path d="M706.8,519.2 A103,103 0 0 1 706.8,664.8" fill="none" stroke="rgb(115,115,115)" stroke-width="3" filter="url(#b2)" style="mix-blend-mode:screen"/></g></g>
<g clip-path="url(#clip6)" style="isolation:isolate"><g filter="url(#hot6)"><rect x="894" y="436" width="332" height="331" fill="#000"/><rect x="894" y="436" width="332" height="331" fill="url(#rg6)" />
<ellipse cx="970" cy="594" rx="18" ry="34" fill="rgb(31,31,31)" filter="url(#b6)" style="mix-blend-mode:screen"/>
<ellipse cx="1148" cy="594" rx="18" ry="34" fill="rgb(31,31,31)" filter="url(#b6)" style="mix-blend-mode:screen"/>
<path d="M965,478 Q1059,466 1151,476" fill="none" stroke="rgb(31,31,31)" stroke-width="6" stroke-linecap="round" filter="url(#b3)" style="mix-blend-mode:screen"/>
<path d="M967,498 Q1059,488 1149,496" fill="none" stroke="rgb(23,23,23)" stroke-width="6" stroke-linecap="round" filter="url(#b3)" style="mix-blend-mode:screen"/>
<path d="M965,712 Q1059,724 1151,710" fill="none" stroke="rgb(31,31,31)" stroke-width="6" stroke-linecap="round" filter="url(#b3)" style="mix-blend-mode:screen"/>
<path d="M967,692 Q1059,702 1149,690" fill="none" stroke="rgb(23,23,23)" stroke-width="6" stroke-linecap="round" filter="url(#b3)" style="mix-blend-mode:screen"/>
<ellipse cx="969" cy="480" rx="13" ry="5" transform="rotate(-25 969 480)" fill="rgb(26,26,26)" filter="url(#b2)" style="mix-blend-mode:screen"/>
<ellipse cx="1149" cy="478" rx="13" ry="5" transform="rotate(25 1149 478)" fill="rgb(26,26,26)" filter="url(#b2)" style="mix-blend-mode:screen"/>
<ellipse cx="969" cy="710" rx="13" ry="5" transform="rotate(25 969 710)" fill="rgb(26,26,26)" filter="url(#b2)" style="mix-blend-mode:screen"/>
<ellipse cx="1149" cy="708" rx="13" ry="5" transform="rotate(-25 1149 708)" fill="rgb(26,26,26)" filter="url(#b2)" style="mix-blend-mode:screen"/>
<ellipse cx="1014" cy="545" rx="4" ry="3" transform="rotate(0 1014 545)" fill="rgb(36,36,36)" filter="url(#b1)" style="mix-blend-mode:screen"/>
<ellipse cx="1102" cy="544" rx="4" ry="3" transform="rotate(0 1102 544)" fill="rgb(36,36,36)" filter="url(#b1)" style="mix-blend-mode:screen"/>
<ellipse cx="1016" cy="646" rx="4" ry="3" transform="rotate(0 1016 646)" fill="rgb(36,36,36)" filter="url(#b1)" style="mix-blend-mode:screen"/>
<ellipse cx="1104" cy="645" rx="4" ry="3" transform="rotate(0 1104 645)" fill="rgb(36,36,36)" filter="url(#b1)" style="mix-blend-mode:screen"/>
<ellipse cx="1059" cy="564" rx="4" ry="3" transform="rotate(0 1059 564)" fill="rgb(31,31,31)" filter="url(#b1)" style="mix-blend-mode:screen"/>
<ellipse cx="1059" cy="629" rx="4" ry="3" transform="rotate(0 1059 629)" fill="rgb(31,31,31)" filter="url(#b1)" style="mix-blend-mode:screen"/>
<circle cx="1059" cy="594" r="8.5" fill="rgb(140,140,140)" filter="url(#b1)" style="mix-blend-mode:screen"/>
<ellipse cx="1059" cy="594" rx="6.5" ry="8" fill="#000"/></g><g filter="url(#plain6)" style="mix-blend-mode:screen"><rect x="894" y="436" width="332" height="331" fill="#000"/><path d="M970,572 Q992.475,598 970,624 Q947.525,598 970,572 Z" transform="rotate(0 970 598)" fill="rgb(242,242,242)" filter="url(#b2)" style="mix-blend-mode:screen"/>
<path d="M1148,570 Q1170.475,595 1148,620 Q1125.525,595 1148,570 Z" transform="rotate(0 1148 595)" fill="rgb(242,242,242)" filter="url(#b2)" style="mix-blend-mode:screen"/>
<ellipse cx="969" cy="547" rx="6" ry="11" transform="rotate(25 969 547)" fill="rgb(224,224,224)" filter="url(#b1)" style="mix-blend-mode:screen"/>
<ellipse cx="970" cy="647" rx="6" ry="11" transform="rotate(-25 970 647)" fill="rgb(224,224,224)" filter="url(#b1)" style="mix-blend-mode:screen"/>
<ellipse cx="1148" cy="544" rx="6" ry="11" transform="rotate(-25 1148 544)" fill="rgb(224,224,224)" filter="url(#b1)" style="mix-blend-mode:screen"/>
<ellipse cx="1149" cy="646" rx="6" ry="11" transform="rotate(25 1149 646)" fill="rgb(224,224,224)" filter="url(#b1)" style="mix-blend-mode:screen"/></g></g>
<text x="37" y="34" font-family="Liberation Serif, serif" font-size="45" fill="#111" text-anchor="start" >(a)</text>
<text x="173" y="419.5" font-family="Liberation Serif, serif" font-size="27" fill="#111" text-anchor="middle" >PLLA-0%</text>
<text x="632" y="419.5" font-family="Liberation Serif, serif" font-size="27" fill="#111" text-anchor="middle" >PLLA-400%</text>
<text x="1041" y="422.5" font-family="Liberation Serif, serif" font-size="27" fill="#111" text-anchor="middle" >PLLA-1000%</text>
<text x="173" y="800" font-family="Liberation Serif, serif" font-size="27" fill="#111" text-anchor="middle" >PLLA-F-0%</text>
<text x="627" y="800" font-family="Liberation Serif, serif" font-size="27" fill="#111" text-anchor="middle" >PLLA-F-400%</text>
<text x="1041" y="800" font-family="Liberation Serif, serif" font-size="27" fill="#111" text-anchor="middle" >PLLA-F-1000%</text>
<text x="812" y="181" font-family="Liberation Serif, serif" font-size="21" fill="#3a3a3a" text-anchor="start" >(200)α</text>
<text x="812" y="218" font-family="Liberation Serif, serif" font-size="21" fill="#3a3a3a" text-anchor="start" >(110)α</text>
<text x="812" y="256" font-family="Liberation Serif, serif" font-size="21" fill="#3a3a3a" text-anchor="start" >(200)β</text>
<text x="790" y="407" font-family="Liberation Serif, serif" font-size="21.5" fill="#3a3a3a" text-anchor="start" >(202) (222)β</text>
<text x="384" y="541" font-family="Liberation Serif, serif" font-size="21" fill="#3a3a3a" text-anchor="start" >(203)α</text>
<path d="M814,163.5 Q808,163.5 808,172 L808,196 Q808,202.5 803,202.5 Q808,202.5 808,209 L808,226 Q808,234 814,234" fill="none" stroke="#2a2a2a" stroke-width="1.8"/>
<path d="M870,176 Q876,176 876,184 L876,208 Q876,215 882,215 Q876,215 876,222 L876,253 Q876,261 869,261" fill="none" stroke="#2a2a2a" stroke-width="1.8"/>
<line x1="799" y1="218" x2="806" y2="218" stroke="#2a2a2a" stroke-width="1.6"/>
<line x1="880" y1="217.3" x2="894" y2="217.3" stroke="#2a2a2a" stroke-width="1.6"/>
<path d="M717,218.3 L738,215.8 L768,217.6 L768,218.6 L738,221 Z" fill="#000"/>
<path d="M893,216.5 L923,214.8 L964.5,217.4 L923,220.5 L893,218.2 Z" fill="#000"/>
<line x1="1226.6" y1="56" x2="1226.6" y2="386" stroke="#d4d4d4" stroke-width="1.2"/>
<line x1="842" y1="387.5" x2="892" y2="364" stroke="#1a1a1a" stroke-width="2"/>
<path d="M952,337 L965,328 L971,326 L962,334 Z" fill="#000"/>
<line x1="385" y1="544" x2="376" y2="550" stroke="#222" stroke-width="1.8"/>
<path d="M300,601 L318,588 L326,584 L314,594 Z" fill="#000"/>
<line x1="421" y1="546.7" x2="512" y2="546.7" stroke="#3a3a3a" stroke-width="1.4"/>
<path d="M505,544.5 L542,546.7 L505,549 Z" fill="#111"/>
<rect x="39.7" y="817.5" width="567.8" height="457.0" fill="none" stroke="#000" stroke-width="3"/>
<line x1="39.7" y1="1274.5" x2="39.7" y2="1283.0" stroke="#000" stroke-width="3"/>
<text x="39.7" y="1304.5" font-family="Liberation Sans, sans-serif" font-size="19" text-anchor="middle" fill="#222">5</text>
<line x1="96.5" y1="1274.5" x2="96.5" y2="1279.5" stroke="#000" stroke-width="2.5"/>
<line x1="153.3" y1="1274.5" x2="153.3" y2="1283.0" stroke="#000" stroke-width="3"/>
<text x="153.3" y="1304.5" font-family="Liberation Sans, sans-serif" font-size="19" text-anchor="middle" fill="#222">10</text>
<line x1="210.0" y1="1274.5" x2="210.0" y2="1279.5" stroke="#000" stroke-width="2.5"/>
<line x1="266.8" y1="1274.5" x2="266.8" y2="1283.0" stroke="#000" stroke-width="3"/>
<text x="266.8" y="1304.5" font-family="Liberation Sans, sans-serif" font-size="19" text-anchor="middle" fill="#222">15</text>
<line x1="323.6" y1="1274.5" x2="323.6" y2="1279.5" stroke="#000" stroke-width="2.5"/>
<line x1="380.4" y1="1274.5" x2="380.4" y2="1283.0" stroke="#000" stroke-width="3"/>
<text x="380.4" y="1304.5" font-family="Liberation Sans, sans-serif" font-size="19" text-anchor="middle" fill="#222">20</text>
<line x1="437.2" y1="1274.5" x2="437.2" y2="1279.5" stroke="#000" stroke-width="2.5"/>
<line x1="493.9" y1="1274.5" x2="493.9" y2="1283.0" stroke="#000" stroke-width="3"/>
<text x="493.9" y="1304.5" font-family="Liberation Sans, sans-serif" font-size="19" text-anchor="middle" fill="#222">25</text>
<line x1="550.7" y1="1274.5" x2="550.7" y2="1279.5" stroke="#000" stroke-width="2.5"/>
<line x1="607.5" y1="1274.5" x2="607.5" y2="1283.0" stroke="#000" stroke-width="3"/>
<text x="607.5" y="1304.5" font-family="Liberation Sans, sans-serif" font-size="19" text-anchor="middle" fill="#222">30</text>
<rect x="678.7" y="818.7" width="567.8" height="457.29999999999995" fill="none" stroke="#000" stroke-width="3"/>
<line x1="678.7" y1="1276" x2="678.7" y2="1284.5" stroke="#000" stroke-width="3"/>
<text x="678.7" y="1306" font-family="Liberation Sans, sans-serif" font-size="19" text-anchor="middle" fill="#222">5</text>
<line x1="735.5" y1="1276" x2="735.5" y2="1281" stroke="#000" stroke-width="2.5"/>
<line x1="792.3" y1="1276" x2="792.3" y2="1284.5" stroke="#000" stroke-width="3"/>
<text x="792.3" y="1306" font-family="Liberation Sans, sans-serif" font-size="19" text-anchor="middle" fill="#222">10</text>
<line x1="849.0" y1="1276" x2="849.0" y2="1281" stroke="#000" stroke-width="2.5"/>
<line x1="905.8" y1="1276" x2="905.8" y2="1284.5" stroke="#000" stroke-width="3"/>
<text x="905.8" y="1306" font-family="Liberation Sans, sans-serif" font-size="19" text-anchor="middle" fill="#222">15</text>
<line x1="962.6" y1="1276" x2="962.6" y2="1281" stroke="#000" stroke-width="2.5"/>
<line x1="1019.4" y1="1276" x2="1019.4" y2="1284.5" stroke="#000" stroke-width="3"/>
<text x="1019.4" y="1306" font-family="Liberation Sans, sans-serif" font-size="19" text-anchor="middle" fill="#222">20</text>
<line x1="1076.2" y1="1276" x2="1076.2" y2="1281" stroke="#000" stroke-width="2.5"/>
<line x1="1132.9" y1="1276" x2="1132.9" y2="1284.5" stroke="#000" stroke-width="3"/>
<text x="1132.9" y="1306" font-family="Liberation Sans, sans-serif" font-size="19" text-anchor="middle" fill="#222">25</text>
<line x1="1189.7" y1="1276" x2="1189.7" y2="1281" stroke="#000" stroke-width="2.5"/>
<line x1="1246.5" y1="1276" x2="1246.5" y2="1284.5" stroke="#000" stroke-width="3"/>
<text x="1246.5" y="1306" font-family="Liberation Sans, sans-serif" font-size="19" text-anchor="middle" fill="#222">30</text>
<rect x="341" y="906" width="52" height="312" fill="#fffbe6" opacity="0.28"/>
<rect x="416" y="1000" width="25" height="215" fill="#fffbe6" opacity="0.28"/>
<rect x="494" y="1000" width="49" height="215" fill="#fffbe6" opacity="0.28"/>
<rect x="880" y="1060" width="38" height="155" fill="#fffbe6" opacity="0.28"/>
<rect x="980" y="910" width="55" height="315" fill="#fffbe6" opacity="0.28"/>
<rect x="1055" y="1040" width="35" height="185" fill="#fffbe6" opacity="0.28"/>
<rect x="1130" y="1070" width="55" height="155" fill="#fffbe6" opacity="0.28"/>
<polyline points="41.0,1236.7 42.2,1237.4 43.4,1236.9 44.6,1235.4 45.8,1237.4 47.0,1237.0 48.2,1236.0 49.4,1237.0 50.6,1236.7 51.8,1236.6 53.0,1236.3 54.2,1236.8 55.4,1235.5 56.6,1236.0 57.8,1235.7 59.0,1236.6 60.2,1236.0 61.4,1235.6 62.6,1235.1 63.8,1235.5 65.0,1235.7 66.2,1235.4 66.5,1235.6 67.4,1236.4 68.6,1233.0 69.8,1233.7 71.0,1235.1 72.2,1234.8 73.4,1235.2 74.6,1235.1 75.8,1236.7 77.0,1233.6 78.2,1234.2 79.4,1236.2 80.6,1234.8 81.8,1234.7 83.0,1233.5 84.2,1232.3 85.4,1233.8 86.6,1233.6 87.8,1232.3 89.0,1232.6 90.2,1233.0 91.4,1232.1 92.6,1232.8 93.8,1232.8 95.0,1232.7 96.2,1232.1 97.4,1233.0 98.0,1232.4 98.6,1232.7 99.8,1231.6 101.0,1232.9 102.2,1231.7 103.4,1232.9 104.6,1231.1 105.8,1232.8 107.0,1231.9 108.2,1230.7 109.4,1231.5 110.6,1231.8 111.8,1231.9 113.0,1230.7 114.2,1230.6 115.4,1231.7 116.6,1231.0 117.8,1231.6 119.0,1232.1 120.2,1229.8 121.4,1231.5 122.6,1232.3 123.8,1230.9 125.0,1230.4 126.2,1231.7 127.4,1231.2 128.6,1231.8 129.5,1230.9 129.8,1229.6 131.0,1230.7 132.2,1230.4 133.4,1231.4 134.6,1230.8 135.8,1229.1 137.0,1229.5 138.2,1231.3 139.4,1231.0 140.6,1229.8 141.8,1230.3 143.0,1230.6 144.2,1230.6 145.4,1230.9 146.6,1230.3 147.8,1229.9 149.0,1229.7 150.2,1230.8 151.4,1227.8 152.6,1229.6 153.8,1229.7 155.0,1228.3 156.2,1229.8 157.4,1228.9 158.6,1230.2 159.8,1229.2 161.0,1229.3 161.0,1230.4 162.2,1229.6 163.4,1228.4 164.6,1227.8 165.8,1230.6 167.0,1228.9 168.2,1228.3 169.4,1229.0 170.6,1228.7 171.8,1229.6 173.0,1228.8 174.2,1228.7 175.4,1228.0 176.6,1229.0 177.8,1227.6 179.0,1229.1 180.2,1229.8 181.4,1227.0 182.6,1226.1 183.8,1228.8 185.0,1230.4 186.2,1227.2 187.4,1226.9 188.6,1228.5 189.8,1227.1 191.0,1227.3 192.2,1227.4 192.5,1227.7 193.4,1227.3 194.6,1227.8 195.8,1227.3 197.0,1226.6 198.2,1227.0 199.4,1226.3 200.6,1227.1 201.8,1225.9 203.0,1225.8 204.2,1228.0 205.4,1226.5 206.6,1226.4 207.8,1226.8 209.0,1225.8 210.2,1225.9 211.4,1226.3 212.6,1226.1 213.8,1224.6 215.0,1226.3 216.2,1224.9 217.4,1224.3 218.6,1224.3 219.8,1224.7 221.0,1226.4 222.2,1223.7 223.4,1224.8 224.0,1224.6 224.6,1224.5 225.8,1225.2 227.0,1224.1 228.2,1223.7 229.4,1224.3 230.6,1224.6 231.8,1224.5 233.0,1225.5 234.2,1223.8 235.0,1223.5 235.4,1223.3 236.6,1223.1 237.8,1223.0 239.0,1222.6 240.2,1222.4 241.4,1220.3 242.6,1222.2 243.8,1220.4 245.0,1219.5 246.2,1220.6 247.4,1220.8 248.6,1219.6 249.8,1218.9 250.7,1218.5 251.0,1221.0 252.2,1218.8 253.4,1216.7 254.6,1216.6 255.8,1217.0 257.0,1215.2 258.2,1216.4 259.4,1215.5 260.6,1216.6 261.8,1216.0 263.0,1212.4 264.2,1214.5 265.4,1212.7 266.5,1213.8 266.6,1213.9 267.8,1213.9 269.0,1212.1 270.2,1214.4 271.4,1214.2 272.6,1211.1 273.8,1212.1 275.0,1210.8 276.2,1211.0 277.4,1209.6 278.6,1212.0 279.8,1209.1 281.0,1209.4 282.2,1209.3 282.2,1208.7 283.4,1208.7 284.6,1208.1 285.8,1208.1 287.0,1206.8 288.2,1207.0 289.4,1206.9 290.6,1206.4 291.8,1206.3 293.0,1205.6 294.2,1206.2 295.4,1204.8 296.6,1204.6 297.8,1203.8 298.0,1204.3 299.0,1202.9 300.2,1204.1 301.4,1202.2 302.6,1202.2 303.8,1202.8 305.0,1202.4 306.2,1201.4 307.4,1199.5 308.6,1201.4 309.8,1200.9 311.0,1199.0 312.2,1200.7 313.4,1199.0 313.7,1199.6 314.6,1199.5 315.8,1198.9 317.0,1199.0 318.2,1197.1 319.4,1199.9 320.6,1197.5 321.8,1196.4 323.0,1198.1 324.2,1197.0 325.4,1197.4 326.6,1196.6 327.8,1196.6 329.0,1196.7 329.5,1196.4 330.2,1196.9 331.4,1195.6 332.6,1195.1 333.8,1195.7 335.0,1195.8 336.2,1195.0 337.4,1194.3 338.6,1195.4 339.8,1193.1 341.0,1193.6 342.2,1194.4 343.4,1193.0 344.6,1194.1 345.2,1194.0 345.8,1194.7 347.0,1193.0 348.2,1193.1 349.4,1193.9 350.6,1191.3 351.8,1196.2 353.0,1192.6 354.2,1192.5 355.4,1193.9 356.6,1193.0 357.8,1191.3 359.0,1193.4 360.2,1193.6 361.0,1192.8 361.4,1192.5 362.6,1193.2 363.8,1191.9 365.0,1193.1 366.2,1192.8 367.4,1192.0 368.6,1191.3 369.8,1192.4 371.0,1191.8 372.2,1193.4 373.4,1192.6 374.6,1193.2 375.8,1192.6 376.7,1192.5 377.0,1191.8 378.2,1193.2 379.4,1194.3 380.6,1192.5 381.8,1192.5 383.0,1193.1 384.2,1193.0 385.4,1193.1 386.6,1194.1 387.8,1193.9 389.0,1195.7 390.2,1194.7 391.4,1195.2 392.5,1195.0 392.6,1194.7 393.8,1196.4 395.0,1194.7 396.2,1194.6 397.4,1195.1 398.6,1195.4 399.8,1194.4 401.0,1195.7 402.2,1194.3 403.4,1197.1 404.6,1195.9 405.8,1195.5 407.0,1195.4 408.2,1195.9 409.4,1196.2 410.0,1196.5 410.6,1195.8 411.8,1196.6 413.0,1196.5 414.2,1198.0 415.4,1198.5 416.6,1197.7 417.8,1198.4 419.0,1197.1 420.2,1199.2 421.4,1198.9 422.6,1199.7 423.8,1201.0 425.0,1197.9 426.2,1200.5 427.4,1199.6 428.1,1200.8 428.6,1199.8 429.8,1200.9 431.0,1201.9 432.2,1202.7 433.4,1202.7 434.6,1202.4 435.8,1203.1 437.0,1204.8 438.2,1204.5 439.4,1203.4 440.6,1206.0 441.5,1205.5 441.8,1206.4 443.0,1205.6 444.2,1206.9 445.4,1205.5 446.6,1207.2 447.8,1206.5 449.0,1207.8 450.2,1208.3 451.4,1206.9 452.6,1207.8 453.8,1208.1 455.0,1209.3 456.2,1209.1 457.2,1208.7 457.4,1209.2 458.6,1209.6 459.8,1211.1 461.0,1207.9 462.2,1209.2 463.4,1211.1 464.6,1208.9 465.8,1209.2 467.0,1211.0 468.2,1211.7 469.4,1210.4 470.6,1211.7 471.8,1211.6 473.0,1211.8 473.0,1211.8 474.2,1213.0 475.4,1211.6 476.6,1212.6 477.8,1213.1 479.0,1214.6 480.2,1214.4 481.4,1213.6 482.6,1215.3 483.8,1215.8 485.0,1215.4 486.2,1215.6 487.4,1216.0 488.6,1215.0 488.7,1216.5 489.8,1217.0 491.0,1216.2 492.2,1217.9 493.4,1216.3 494.6,1217.2 495.8,1217.5 497.0,1220.0 498.2,1217.0 499.4,1219.1 500.6,1219.7 501.8,1219.4 503.0,1220.4 504.2,1218.7 504.5,1219.7 505.4,1220.6 506.6,1219.2 507.8,1220.3 509.0,1219.9 510.2,1222.3 511.4,1222.5 512.6,1221.5 513.8,1223.3 515.0,1223.0 516.2,1223.2 517.4,1223.7 518.6,1223.8 519.8,1224.9 520.2,1224.4 521.0,1224.3 522.2,1225.8 523.4,1224.6 524.6,1225.7 525.8,1226.0 527.0,1227.2 528.2,1225.7 529.4,1228.0 530.6,1226.8 531.8,1226.7 533.0,1226.5 534.2,1227.8 535.4,1227.5 536.0,1227.6 536.6,1226.7 537.8,1227.4 539.0,1227.5 540.2,1229.3 541.4,1229.7 542.6,1229.4 543.8,1229.2 545.0,1228.6 546.2,1229.2 547.4,1230.1 548.6,1231.4 549.8,1230.5 551.0,1229.6 551.7,1229.9 552.2,1229.5 553.4,1229.4 554.6,1230.1 555.8,1230.5 557.0,1232.1 558.2,1230.6 559.4,1231.9 560.6,1232.4 561.8,1231.0 563.0,1232.5 564.2,1231.8 565.4,1230.9 566.6,1231.6 567.5,1231.5 567.8,1231.3 569.0,1231.5 570.2,1231.9 571.4,1232.3 572.6,1231.3 573.8,1232.2 575.0,1231.0 576.2,1232.7 577.4,1233.2 578.6,1232.9 579.8,1233.1 581.0,1233.5 582.2,1232.4 583.2,1233.1 583.4,1233.6 584.6,1234.1 585.8,1233.6 587.0,1235.6 588.2,1233.3 589.4,1234.3 590.6,1234.6 591.8,1233.4 593.0,1232.8 594.2,1232.6 595.4,1233.8 596.6,1234.7 597.8,1234.0 599.0,1234.0 600.2,1233.5 601.4,1234.4 602.6,1232.0 603.8,1234.1 605.0,1233.9 606.0,1233.9" fill="none" stroke="#000" stroke-width="3.3" stroke-linejoin="round"/>
<polyline points="41.0,1222.2 42.2,1221.6 43.4,1221.5 44.6,1219.7 45.8,1223.1 47.0,1222.4 48.2,1221.0 49.4,1221.8 50.6,1221.2 51.8,1220.4 53.0,1221.5 54.2,1220.3 55.4,1220.1 56.6,1219.6 57.8,1220.5 59.0,1219.9 60.2,1220.3 61.4,1219.1 62.6,1219.6 63.8,1218.6 65.0,1219.9 66.2,1219.2 66.5,1219.0 67.4,1219.2 68.6,1217.9 69.8,1219.2 71.0,1220.2 72.2,1216.9 73.4,1216.7 74.6,1216.7 75.8,1218.5 77.0,1217.8 78.2,1218.4 79.4,1218.0 80.6,1217.4 81.8,1217.3 83.0,1216.8 84.2,1217.5 85.4,1215.6 86.6,1216.1 87.8,1216.5 89.0,1217.7 90.2,1215.3 91.4,1214.9 92.6,1215.2 93.8,1216.4 95.0,1215.2 96.2,1216.4 97.4,1213.5 98.0,1215.0 98.6,1215.8 99.8,1213.6 101.0,1214.8 102.2,1215.5 103.4,1214.4 104.6,1215.0 105.8,1216.1 107.0,1214.1 108.2,1213.5 109.4,1213.0 110.6,1214.0 111.8,1213.2 113.0,1213.0 114.2,1213.0 115.4,1213.5 116.6,1211.9 117.8,1211.3 119.0,1210.4 120.2,1213.3 121.4,1212.2 122.6,1213.3 123.8,1211.8 125.0,1211.0 126.2,1211.9 127.4,1211.2 128.6,1210.1 129.5,1211.0 129.8,1212.5 131.0,1211.1 132.2,1210.9 133.4,1210.1 134.6,1209.6 135.8,1210.7 137.0,1209.7 138.2,1208.9 139.4,1209.2 140.6,1208.4 141.8,1209.1 143.0,1209.7 144.2,1207.8 145.4,1209.5 146.6,1207.4 147.8,1207.9 149.0,1206.8 150.2,1207.1 151.4,1207.1 152.6,1206.4 153.8,1205.9 155.0,1205.7 156.2,1205.3 157.4,1204.4 158.6,1205.2 159.8,1205.5 161.0,1204.9 161.0,1205.5 162.2,1206.7 163.4,1204.6 164.6,1203.6 165.8,1205.3 167.0,1202.5 168.2,1203.9 169.4,1201.9 170.6,1202.7 171.8,1200.4 173.0,1202.5 174.2,1201.2 175.4,1200.2 176.6,1202.1 177.8,1200.9 179.0,1199.9 180.2,1198.9 181.4,1199.1 182.6,1198.6 183.8,1199.0 185.0,1198.6 186.2,1197.0 187.4,1196.7 188.6,1196.3 189.8,1195.2 191.0,1195.4 192.2,1195.4 192.5,1195.4 193.4,1196.2 194.6,1194.0 195.8,1194.7 197.0,1193.3 198.2,1195.0 199.4,1192.7 200.6,1192.7 201.8,1191.0 203.0,1190.6 204.2,1190.9 205.4,1189.9 206.6,1190.1 207.8,1188.0 208.5,1189.0 209.0,1188.0 210.2,1189.8 211.4,1187.6 212.6,1188.3 213.8,1185.8 215.0,1186.8 216.2,1185.3 217.4,1185.1 218.6,1185.1 219.8,1184.3 221.0,1184.3 222.2,1184.2 223.4,1183.6 224.0,1182.8 224.6,1181.4 225.8,1181.3 227.0,1181.2 228.2,1178.9 229.4,1180.7 230.6,1179.3 231.8,1178.6 233.0,1179.1 234.2,1178.2 235.0,1177.3 235.4,1176.3 236.6,1176.9 237.8,1176.4 239.0,1174.9 240.2,1176.1 241.4,1175.2 242.6,1172.6 243.8,1174.0 245.0,1172.3 246.2,1173.9 247.4,1173.1 248.6,1171.0 249.8,1170.7 250.7,1171.0 251.0,1170.7 252.2,1171.5 253.4,1170.2 254.6,1168.6 255.8,1168.6 257.0,1165.6 258.2,1166.8 259.4,1166.4 260.6,1164.8 261.8,1163.6 263.0,1163.9 264.2,1164.4 265.4,1162.3 266.5,1161.6 266.6,1162.8 267.8,1159.4 269.0,1161.0 270.2,1159.6 271.4,1160.5 272.6,1158.6 273.8,1160.1 275.0,1158.8 276.2,1156.7 277.4,1156.1 278.6,1157.1 279.8,1158.1 281.0,1156.6 282.2,1156.0 282.2,1155.8 283.4,1156.1 284.6,1155.2 285.8,1154.6 287.0,1152.9 288.2,1154.1 289.4,1153.6 290.6,1150.6 291.8,1153.0 293.0,1151.0 294.2,1149.2 295.4,1147.3 296.6,1148.8 297.8,1148.0 298.0,1147.4 299.0,1145.3 300.2,1147.0 301.4,1144.8 302.6,1144.2 303.8,1146.2 305.0,1144.8 306.2,1143.0 307.4,1141.0 308.6,1141.2 309.8,1137.9 311.0,1139.1 312.2,1137.6 313.4,1136.3 313.7,1137.2 314.6,1137.0 315.8,1135.9 317.0,1135.1 318.2,1134.9 319.4,1132.7 320.6,1131.5 321.8,1130.2 323.0,1130.6 324.2,1130.7 325.4,1129.1 326.6,1128.9 327.8,1126.4 329.0,1126.1 329.5,1126.1 330.2,1124.5 331.4,1126.3 332.6,1124.7 333.8,1122.5 335.0,1121.7 336.2,1121.4 337.4,1119.3 338.6,1119.7 339.8,1117.0 341.0,1116.2 342.0,1115.0 342.2,1114.2 343.4,1110.0 344.6,1104.8 345.8,1099.6 346.8,1096.0 347.0,1094.9 348.2,1090.7 349.4,1087.4 350.6,1081.5 351.5,1075.7 351.8,1074.1 353.0,1060.1 354.2,1047.6 354.7,1041.7 355.4,1035.2 356.6,1029.1 357.8,1022.2 359.0,1012.6 360.2,1007.4 361.4,999.7 361.5,999.4 362.6,987.6 363.8,976.0 364.5,974.2 365.0,976.7 366.2,988.1 366.3,986.0 367.4,985.6 368.6,980.9 369.8,976.7 371.0,972.0 371.9,972.0 372.2,971.6 373.4,977.4 374.1,980.0 374.6,982.8 375.8,988.9 377.0,994.4 377.8,999.4 378.2,1002.6 379.4,1007.0 380.6,1013.4 381.8,1018.7 383.0,1026.0 383.0,1026.3 384.2,1032.9 385.4,1040.8 386.6,1048.5 387.8,1055.5 389.0,1062.5 389.3,1065.4 390.2,1069.9 391.4,1079.8 392.5,1085.2 392.6,1084.1 393.8,1089.9 395.0,1093.6 396.2,1095.5 397.4,1099.3 398.6,1101.1 398.8,1102.5 399.8,1104.8 401.0,1109.3 402.2,1113.5 403.4,1115.4 404.6,1115.9 405.0,1117.5 405.8,1118.1 407.0,1117.3 408.2,1117.3 409.4,1115.9 410.6,1116.5 411.8,1116.6 413.0,1115.5 414.2,1116.6 415.4,1114.4 416.0,1114.3 416.6,1112.7 417.8,1114.3 419.0,1112.5 420.2,1112.5 421.4,1111.0 422.6,1111.1 423.8,1109.9 425.0,1107.7 426.2,1107.7 427.4,1108.1 428.1,1107.1 428.6,1108.4 429.8,1108.6 431.0,1109.2 432.2,1109.4 433.4,1111.2 434.6,1111.6 435.8,1114.4 437.0,1115.6 438.2,1118.0 438.3,1118.1 439.4,1120.4 440.6,1124.1 441.8,1125.2 443.0,1130.1 444.2,1130.0 444.6,1132.3 445.4,1133.1 446.6,1134.5 447.8,1135.9 449.0,1135.1 450.2,1137.3 451.4,1138.3 452.6,1140.1 453.8,1139.9 454.1,1140.2 455.0,1140.1 456.2,1141.9 457.4,1142.8 458.6,1144.9 459.8,1144.6 461.0,1145.9 462.2,1148.1 463.4,1150.0 464.6,1149.6 465.1,1149.6 465.8,1149.7 467.0,1151.6 468.2,1151.7 469.4,1153.3 470.6,1152.7 471.8,1152.2 473.0,1153.0 474.2,1153.2 475.4,1153.4 476.6,1155.9 477.8,1155.9 479.0,1154.5 480.2,1157.3 480.9,1155.9 481.4,1155.2 482.6,1156.5 483.8,1156.3 485.0,1155.8 486.2,1154.9 487.4,1156.7 488.6,1157.1 489.8,1154.7 491.0,1157.5 492.2,1157.6 493.4,1156.8 494.6,1157.3 495.8,1157.1 497.0,1156.7 498.2,1157.2 499.4,1158.8 500.6,1156.5 501.8,1158.1 503.0,1158.2 504.2,1157.7 504.5,1158.3 505.4,1157.3 506.6,1158.0 507.8,1159.1 509.0,1159.7 510.2,1159.0 511.4,1162.8 512.6,1160.2 513.8,1161.2 515.0,1161.4 516.2,1161.8 517.4,1163.7 518.6,1162.7 519.8,1164.8 520.2,1163.8 521.0,1163.2 522.2,1165.6 523.4,1164.7 524.6,1168.2 525.8,1166.1 527.0,1166.3 528.2,1166.1 529.4,1167.3 530.6,1168.5 531.8,1168.8 533.0,1169.2 534.2,1170.3 535.4,1171.3 536.0,1171.7 536.6,1170.5 537.8,1172.0 539.0,1172.2 540.2,1172.2 541.4,1172.9 542.6,1173.7 543.8,1175.5 545.0,1175.2 546.2,1175.4 547.4,1176.8 548.6,1177.0 549.8,1177.1 551.0,1178.0 551.7,1178.0 552.2,1178.7 553.4,1179.1 554.6,1178.8 555.8,1178.6 557.0,1181.4 558.2,1180.7 559.4,1183.7 560.6,1181.0 561.8,1182.8 563.0,1182.1 564.2,1183.2 565.4,1184.2 566.6,1183.3 567.5,1184.3 567.8,1184.6 569.0,1185.0 570.2,1185.9 571.4,1186.8 572.6,1187.1 573.8,1187.1 575.0,1187.1 576.2,1186.9 577.4,1187.7 578.6,1188.4 579.8,1189.9 581.0,1189.5 582.2,1189.2 583.2,1190.6 583.4,1190.0 584.6,1190.5 585.8,1191.4 587.0,1192.4 588.2,1190.4 589.4,1191.9 590.6,1193.4 591.8,1193.4 593.0,1193.4 594.2,1194.1 595.4,1196.1 596.6,1195.0 597.8,1196.4 599.0,1196.8 600.2,1196.2 601.4,1197.3 602.6,1197.0 603.8,1197.2 605.0,1197.1 606.0,1198.4" fill="none" stroke="#e8343f" stroke-width="2.4" stroke-linejoin="round"/>
<polyline points="41.0,1094.0 42.2,1091.7 43.4,1094.1 44.6,1093.2 45.8,1093.2 47.0,1093.2 48.2,1091.6 49.4,1093.0 50.6,1092.3 51.8,1095.8 53.0,1093.0 54.2,1092.4 55.4,1092.4 56.6,1091.9 57.8,1091.5 59.0,1091.9 60.2,1092.5 61.4,1091.8 62.6,1092.7 63.8,1091.6 65.0,1091.7 66.2,1092.8 66.5,1091.5 67.4,1091.0 68.6,1091.1 69.8,1091.6 71.0,1092.7 72.2,1090.7 73.4,1090.6 74.6,1091.5 75.8,1089.8 77.0,1090.2 78.2,1091.0 79.4,1090.6 80.6,1090.1 81.8,1090.5 83.0,1087.4 84.2,1090.5 85.4,1088.7 86.6,1088.0 87.8,1089.5 89.0,1089.7 90.2,1088.6 91.4,1088.0 92.6,1088.8 93.8,1088.6 95.0,1089.8 96.2,1089.1 97.4,1088.5 98.0,1088.3 98.6,1088.1 99.8,1087.4 101.0,1088.5 102.2,1088.5 103.4,1087.7 104.6,1087.1 105.8,1087.9 107.0,1085.5 108.2,1088.1 109.4,1087.8 110.6,1085.9 111.8,1087.3 113.0,1086.3 114.2,1087.7 115.4,1085.3 116.6,1086.1 117.8,1087.4 119.0,1087.7 120.2,1084.8 121.4,1086.2 122.6,1086.8 123.8,1085.9 125.0,1087.7 126.2,1085.2 127.4,1086.5 128.6,1085.2 129.5,1086.0 129.8,1086.0 131.0,1085.6 132.2,1084.3 133.4,1087.1 134.6,1086.3 135.8,1086.2 137.0,1086.4 138.2,1085.7 139.4,1084.8 140.6,1084.5 141.8,1084.5 143.0,1086.2 144.2,1083.7 145.4,1084.4 146.6,1084.5 147.8,1084.9 149.0,1085.1 150.2,1083.5 151.4,1083.0 152.6,1084.4 153.8,1085.3 155.0,1084.8 156.2,1084.2 157.4,1083.7 158.6,1084.1 159.8,1083.5 161.0,1083.6 161.0,1082.9 162.2,1083.6 163.4,1083.2 164.6,1083.7 165.8,1083.2 167.0,1085.0 168.2,1084.0 169.4,1083.8 170.6,1080.6 171.8,1081.9 173.0,1081.4 174.2,1082.2 175.4,1079.6 176.6,1082.4 177.8,1082.1 179.0,1079.8 180.2,1079.9 181.4,1079.9 182.6,1080.4 183.8,1080.7 185.0,1081.7 186.2,1079.6 187.4,1080.2 188.6,1079.5 189.8,1080.7 191.0,1079.7 192.2,1080.1 192.5,1078.9 193.4,1078.6 194.6,1078.0 195.8,1079.8 197.0,1078.9 198.2,1077.9 199.4,1077.7 200.6,1078.3 201.8,1077.2 203.0,1076.8 204.2,1077.9 205.4,1079.4 206.6,1077.0 207.8,1076.6 209.0,1075.9 210.2,1075.7 211.4,1077.1 212.6,1077.3 213.8,1076.5 215.0,1076.6 216.2,1076.3 217.4,1076.3 218.6,1074.7 219.8,1075.6 221.0,1076.0 222.2,1075.1 223.4,1075.3 224.0,1075.7 224.6,1075.4 225.8,1076.3 227.0,1075.2 228.2,1075.4 229.4,1076.2 230.6,1076.0 231.8,1076.9 233.0,1073.6 234.2,1076.1 235.0,1075.3 235.4,1075.4 236.6,1075.9 237.8,1076.0 239.0,1075.8 240.2,1074.9 241.4,1076.0 242.6,1074.2 243.8,1074.2 245.0,1074.8 246.2,1073.4 247.4,1075.5 248.6,1074.2 249.8,1075.0 251.0,1072.9 252.2,1072.3 253.4,1072.5 254.6,1072.7 255.8,1071.3 257.0,1071.8 258.2,1071.2 259.4,1072.3 260.6,1070.1 261.8,1071.3 263.0,1069.6 264.2,1069.1 265.4,1069.0 266.5,1069.4 266.6,1069.5 267.8,1070.0 269.0,1069.0 270.2,1069.2 271.4,1069.8 272.6,1068.4 273.8,1068.1 275.0,1067.5 276.2,1066.1 277.4,1067.8 278.6,1065.5 279.8,1067.3 281.0,1066.4 282.2,1067.2 283.4,1065.9 284.6,1065.0 285.8,1065.7 287.0,1064.7 288.2,1064.7 289.4,1064.7 290.6,1064.2 291.8,1063.9 293.0,1063.1 294.2,1063.3 295.4,1061.4 296.6,1062.7 297.8,1061.5 298.0,1062.5 299.0,1063.3 300.2,1060.3 301.4,1061.7 302.6,1061.2 303.8,1060.0 305.0,1061.0 306.2,1059.9 307.4,1058.4 308.6,1059.3 309.8,1059.0 311.0,1058.8 312.2,1057.3 313.4,1058.4 314.6,1058.1 315.8,1056.0 317.0,1056.0 318.2,1056.0 318.5,1055.9 319.4,1057.0 320.6,1055.1 321.8,1053.5 323.0,1053.1 324.2,1053.1 325.4,1054.4 326.6,1051.6 327.8,1051.1 329.0,1050.6 330.2,1049.3 331.4,1050.4 332.6,1047.1 333.8,1047.2 335.0,1045.7 335.8,1044.9 336.2,1043.5 337.4,1044.9 338.6,1041.9 339.8,1040.6 341.0,1038.2 342.2,1036.6 343.4,1035.8 344.6,1034.2 345.2,1032.3 345.8,1032.2 347.0,1029.2 348.2,1025.6 349.4,1023.1 350.6,1019.5 351.5,1016.5 351.8,1016.3 353.0,1013.9 354.2,1010.1 355.4,1006.0 356.6,1002.1 357.0,999.4 357.8,990.4 359.0,972.9 359.3,970.5 360.2,967.1 361.4,960.4 362.3,959.3 362.6,959.6 363.7,955.6 363.8,955.1 364.5,925.2 365.0,934.7 365.6,948.2 366.2,945.1 367.4,936.7 368.6,931.2 368.6,930.4 369.8,948.2 370.0,947.5 371.0,933.1 371.9,919.3 372.2,920.9 373.0,938.6 373.4,938.6 374.6,936.1 375.6,936.4 375.8,939.7 376.4,956.4 377.0,956.1 378.2,958.0 378.6,959.3 379.4,963.6 380.6,974.2 380.8,974.2 381.8,976.0 383.0,977.9 383.0,976.8 384.2,984.5 385.3,989.0 385.4,989.2 386.4,987.5 386.6,987.4 387.8,996.7 388.2,999.4 389.0,1004.1 390.2,1010.6 391.4,1016.9 392.5,1022.8 392.6,1022.2 393.8,1025.9 395.0,1030.3 396.2,1032.2 397.4,1037.1 398.6,1037.5 398.8,1037.0 399.8,1039.4 401.0,1041.1 402.2,1042.3 403.4,1045.6 404.6,1045.4 405.8,1044.4 406.7,1047.2 407.0,1046.7 408.2,1048.3 409.4,1046.1 410.6,1045.2 411.8,1046.9 413.0,1044.0 414.2,1044.4 415.4,1044.9 416.1,1043.3 416.6,1043.0 417.8,1042.5 419.0,1042.3 420.2,1040.1 421.4,1040.5 422.6,1039.6 423.8,1040.4 425.0,1037.5 426.2,1036.5 427.4,1037.7 428.1,1037.0 428.6,1037.3 429.8,1037.5 431.0,1039.2 432.2,1038.7 433.4,1040.4 434.6,1039.8 435.8,1042.8 437.0,1046.4 438.2,1046.1 439.4,1047.6 440.6,1048.5 441.5,1050.4 441.8,1050.8 443.0,1050.7 444.2,1053.4 445.4,1054.1 446.6,1055.6 447.8,1055.5 449.0,1058.5 450.2,1058.4 451.4,1058.9 452.6,1059.5 453.8,1060.6 455.0,1062.4 456.2,1062.2 457.2,1063.0 457.4,1063.6 458.6,1064.9 459.8,1065.2 461.0,1065.1 462.2,1064.1 463.4,1066.6 464.6,1067.6 465.8,1067.6 467.0,1068.5 468.2,1068.1 469.4,1068.6 470.6,1068.5 471.8,1070.9 473.0,1070.0 473.0,1069.6 474.2,1069.1 475.4,1070.4 476.6,1072.0 477.8,1071.4 479.0,1070.6 480.2,1072.6 481.4,1072.8 482.6,1072.6 483.8,1072.6 485.0,1073.0 486.2,1072.6 487.4,1073.0 488.6,1071.7 488.7,1072.4 489.8,1072.7 491.0,1074.3 492.2,1070.9 493.4,1073.3 494.6,1073.7 495.8,1072.6 497.0,1073.4 498.2,1073.7 499.4,1073.6 500.6,1072.7 501.8,1073.0 503.0,1074.1 504.2,1074.3 504.5,1073.2 505.4,1073.3 506.6,1073.4 507.8,1074.1 509.0,1072.3 510.2,1072.1 511.4,1073.3 512.6,1072.3 513.8,1072.7 515.0,1073.3 516.2,1073.6 517.4,1072.3 518.6,1073.9 519.8,1071.7 520.2,1073.2 521.0,1071.9 522.2,1072.2 523.4,1073.9 524.6,1073.1 525.8,1073.0 527.0,1073.5 528.2,1074.4 529.4,1074.2 530.6,1074.5 531.8,1075.7 533.0,1074.4 534.2,1074.8 535.4,1075.0 536.0,1075.6 536.6,1076.6 537.8,1077.1 539.0,1076.2 540.2,1076.4 541.4,1077.6 542.6,1076.9 543.8,1078.2 545.0,1078.5 546.2,1077.6 547.4,1078.4 548.6,1078.7 549.8,1080.6 551.0,1081.6 551.7,1079.5 552.2,1079.6 553.4,1077.9 554.6,1080.2 555.8,1080.2 557.0,1079.4 558.2,1081.2 559.4,1079.3 560.6,1080.7 561.8,1081.1 563.0,1080.1 564.2,1082.1 565.4,1082.4 566.6,1080.6 567.5,1081.9 567.8,1082.5 569.0,1082.2 570.2,1081.4 571.4,1082.5 572.6,1083.0 573.8,1083.3 575.0,1084.4 576.2,1084.4 577.4,1085.9 578.6,1085.8 579.8,1085.6 581.0,1086.2 582.2,1086.7 583.2,1085.8 583.4,1084.8 584.6,1086.8 585.8,1086.4 587.0,1088.0 588.2,1086.9 589.4,1087.5 590.6,1087.6 591.8,1089.0 593.0,1087.9 594.2,1087.8 595.4,1088.5 596.6,1088.1 597.8,1088.8 599.0,1088.9 600.2,1089.3 601.4,1090.9 602.6,1089.1 603.8,1089.7 605.0,1089.7 606.0,1090.0" fill="none" stroke="#1b5bd0" stroke-width="2.6" stroke-linejoin="round"/>
<polyline points="680.0,1234.8 681.2,1234.7 682.4,1235.4 683.6,1235.0 684.8,1234.2 686.0,1234.7 687.2,1234.5 688.4,1234.8 689.6,1234.1 690.8,1234.8 692.0,1234.8 693.2,1235.2 694.4,1234.8 695.6,1234.8 696.8,1234.1 698.0,1235.4 699.2,1233.9 700.4,1235.0 701.6,1234.5 702.8,1234.2 704.0,1234.3 705.2,1234.3 706.4,1234.6 707.6,1234.5 708.8,1235.0 710.0,1233.8 711.2,1234.4 712.4,1234.1 713.6,1234.7 714.8,1233.6 716.0,1234.2 717.2,1234.4 718.4,1233.8 719.6,1234.7 720.8,1234.4 722.0,1234.6 723.2,1234.6 724.4,1233.9 725.6,1233.9 726.8,1234.1 728.0,1234.4 729.2,1234.5 730.4,1233.9 731.6,1233.9 732.8,1233.8 734.0,1233.9 735.2,1234.0 736.4,1234.0 737.6,1234.7 738.0,1234.0 738.8,1233.9 740.0,1234.1 741.2,1233.6 742.4,1233.8 743.6,1233.9 744.8,1234.1 746.0,1233.4 747.2,1234.3 748.4,1233.7 749.6,1233.8 750.8,1234.1 752.0,1234.0 753.2,1234.1 754.4,1233.7 755.6,1233.6 756.8,1233.7 758.0,1233.3 759.2,1234.0 760.4,1233.3 761.6,1233.1 762.8,1234.2 764.0,1233.4 765.2,1233.0 766.4,1234.1 767.6,1233.3 768.8,1233.7 770.0,1233.0 771.2,1233.2 772.4,1232.7 773.6,1232.6 774.8,1232.9 776.0,1233.1 777.2,1233.4 778.4,1233.9 779.6,1232.7 780.8,1233.4 782.0,1232.8 783.2,1232.9 784.4,1232.4 785.6,1232.4 786.8,1232.6 788.0,1232.4 789.2,1232.8 790.4,1232.5 791.6,1233.1 792.8,1232.7 794.0,1232.7 795.2,1233.0 796.4,1232.7 797.6,1232.5 798.8,1232.4 800.0,1232.4 801.0,1232.4 801.2,1232.7 802.4,1232.5 803.6,1232.6 804.8,1232.1 806.0,1232.4 807.2,1231.7 808.4,1232.6 809.6,1232.1 810.8,1232.1 812.0,1232.2 813.2,1231.9 814.4,1231.7 815.6,1232.2 816.8,1231.8 818.0,1231.3 819.2,1231.7 820.4,1230.9 821.6,1232.0 822.8,1231.3 824.0,1231.4 825.2,1232.1 826.4,1232.0 827.6,1231.2 828.8,1231.3 830.0,1231.4 831.2,1231.6 832.4,1230.9 832.5,1230.9 833.6,1231.3 834.8,1230.9 836.0,1231.0 837.2,1230.9 838.4,1230.2 839.6,1230.2 840.8,1229.6 842.0,1230.3 843.2,1230.8 844.4,1229.9 845.6,1230.7 846.8,1230.5 848.0,1230.1 849.2,1230.0 850.4,1230.0 851.6,1229.6 852.8,1229.8 854.0,1229.8 855.2,1229.9 856.4,1229.9 857.6,1229.3 858.8,1229.8 860.0,1229.2 861.2,1229.3 862.4,1229.4 863.6,1229.2 864.8,1229.1 866.0,1229.2 867.2,1228.8 868.4,1228.7 869.6,1228.8 870.8,1229.1 872.0,1228.7 873.2,1229.3 874.4,1228.6 875.0,1228.5 875.6,1228.3 876.8,1228.9 878.0,1228.3 879.2,1228.0 880.4,1227.8 881.6,1228.4 882.8,1228.2 884.0,1228.0 885.2,1227.8 886.4,1228.0 887.6,1227.7 888.8,1226.9 890.0,1227.4 891.2,1227.1 892.4,1226.9 893.6,1227.1 894.8,1226.7 896.0,1225.5 897.2,1227.0 898.4,1226.7 899.6,1226.1 900.8,1225.9 902.0,1226.0 903.2,1225.3 904.4,1225.7 905.6,1225.4 906.8,1225.2 908.0,1224.9 909.2,1224.9 910.4,1225.4 911.6,1225.3 912.8,1224.9 914.0,1224.6 915.2,1224.2 916.4,1224.6 917.6,1224.8 918.8,1223.6 920.0,1224.4 921.2,1223.1 922.2,1223.8 922.4,1223.9 923.6,1223.2 924.8,1223.0 926.0,1223.5 927.2,1223.7 928.4,1223.1 929.6,1223.7 930.8,1222.9 932.0,1223.7 933.2,1223.1 934.4,1223.0 935.6,1223.1 936.8,1222.9 938.0,1223.4 939.2,1223.5 940.4,1222.8 941.6,1222.5 942.8,1222.1 944.0,1222.2 945.2,1222.4 946.4,1222.3 947.6,1222.2 948.8,1222.2 950.0,1222.3 951.2,1221.5 952.4,1221.6 953.6,1222.2 954.8,1222.0 956.0,1221.4 957.2,1222.0 958.4,1221.1 959.6,1221.2 960.8,1220.5 962.0,1221.3 963.2,1220.8 964.4,1221.0 965.6,1220.7 966.8,1220.3 968.0,1220.1 969.2,1220.3 969.5,1219.8 970.4,1219.5 971.6,1219.0 972.8,1218.5 974.0,1217.6 975.2,1217.0 976.4,1215.1 977.6,1214.5 978.8,1212.7 978.9,1212.8 980.0,1211.8 981.2,1211.1 982.4,1209.4 983.6,1207.6 984.8,1206.5 986.0,1204.9 987.2,1203.1 988.4,1201.7 988.4,1201.4 989.6,1201.0 990.8,1198.3 992.0,1196.7 993.2,1194.1 994.4,1192.4 995.6,1191.3 996.3,1190.7 996.8,1190.6 998.0,1188.9 999.2,1188.5 1000.4,1188.0 1001.6,1186.6 1002.6,1186.8 1002.8,1186.5 1004.0,1187.2 1005.2,1187.8 1006.4,1189.2 1007.6,1189.4 1008.8,1190.9 1010.0,1192.3 1010.4,1192.3 1011.2,1193.1 1012.4,1194.2 1013.6,1195.8 1014.8,1198.0 1016.0,1199.7 1017.2,1202.1 1018.4,1203.4 1019.6,1205.0 1019.9,1204.9 1020.8,1206.0 1022.0,1207.8 1023.2,1208.6 1024.4,1211.6 1025.6,1212.3 1026.8,1213.6 1028.0,1214.9 1029.2,1216.2 1029.3,1215.9 1030.4,1216.3 1031.6,1217.2 1032.8,1217.5 1034.0,1217.7 1035.2,1218.6 1036.4,1218.9 1037.6,1218.7 1038.8,1219.9 1040.0,1219.1 1041.2,1219.9 1041.9,1219.8 1042.4,1219.5 1043.6,1219.5 1044.8,1219.9 1046.0,1219.0 1047.2,1219.1 1048.4,1219.5 1049.6,1218.5 1050.8,1218.4 1052.0,1218.4 1053.2,1217.8 1054.4,1217.9 1055.6,1217.4 1056.8,1217.8 1057.7,1217.5 1058.0,1217.2 1059.2,1218.0 1060.4,1217.6 1061.6,1217.7 1062.8,1217.6 1064.0,1218.0 1065.2,1218.3 1066.4,1218.6 1067.6,1219.2 1068.1,1218.9 1068.8,1218.9 1070.0,1219.9 1071.2,1220.0 1072.4,1220.6 1073.6,1221.6 1074.8,1221.8 1076.0,1222.5 1077.2,1222.9 1078.4,1224.1 1079.6,1224.3 1080.8,1224.0 1081.5,1224.4 1082.0,1224.1 1083.2,1225.0 1084.4,1225.1 1085.6,1224.9 1086.8,1225.0 1088.0,1224.6 1089.2,1225.6 1090.4,1225.4 1091.6,1225.4 1092.8,1225.9 1094.0,1225.5 1095.2,1225.6 1096.4,1225.7 1097.2,1226.0 1097.6,1226.9 1098.8,1226.1 1100.0,1226.1 1101.2,1226.6 1102.4,1225.3 1103.6,1226.5 1104.8,1226.6 1106.0,1226.4 1107.2,1226.9 1108.4,1226.2 1109.6,1227.0 1110.8,1227.3 1112.0,1226.3 1113.2,1226.7 1114.4,1227.2 1115.6,1227.3 1116.8,1227.2 1118.0,1227.6 1119.2,1227.6 1120.4,1227.1 1120.9,1227.6 1121.6,1227.1 1122.8,1226.9 1124.0,1226.8 1125.2,1228.1 1126.4,1227.7 1127.6,1228.4 1128.8,1227.3 1130.0,1227.7 1131.2,1228.0 1132.4,1227.8 1133.6,1228.1 1134.8,1228.0 1136.0,1227.8 1137.2,1227.2 1138.4,1227.7 1139.6,1228.7 1140.8,1228.4 1142.0,1228.6 1143.2,1228.0 1144.4,1228.2 1144.5,1228.3 1145.6,1228.4 1146.8,1228.4 1148.0,1228.6 1149.2,1229.1 1150.4,1228.3 1151.6,1228.9 1152.8,1228.3 1154.0,1229.2 1155.2,1228.8 1156.4,1229.0 1157.6,1229.2 1158.8,1229.8 1160.0,1229.3 1161.2,1229.3 1162.4,1229.2 1163.6,1229.8 1164.8,1229.5 1166.0,1229.7 1167.2,1230.0 1168.4,1230.3 1169.6,1229.9 1170.8,1230.5 1172.0,1231.0 1173.2,1230.0 1174.4,1231.0 1175.6,1231.4 1176.0,1230.7 1176.8,1230.9 1178.0,1230.3 1179.2,1231.0 1180.4,1230.8 1181.6,1231.1 1182.8,1230.7 1184.0,1230.9 1185.2,1231.1 1186.4,1231.0 1187.6,1231.1 1188.8,1231.3 1190.0,1231.1 1191.2,1231.5 1192.4,1231.8 1193.6,1230.9 1194.8,1231.8 1196.0,1231.5 1197.2,1231.5 1198.4,1231.4 1199.6,1231.7 1200.8,1231.7 1202.0,1232.2 1203.2,1231.7 1204.4,1232.5 1205.6,1231.9 1206.8,1232.5 1207.5,1232.3 1208.0,1231.8 1209.2,1232.7 1210.4,1233.1 1211.6,1232.2 1212.8,1232.6 1214.0,1232.4 1215.2,1232.5 1216.4,1232.5 1217.6,1232.4 1218.8,1232.9 1220.0,1232.9 1221.2,1232.7 1222.4,1233.2 1223.6,1233.1 1224.8,1233.0 1226.0,1232.5 1227.2,1233.5 1228.4,1233.3 1229.6,1232.1 1230.8,1232.5 1232.0,1232.8 1233.2,1233.3 1234.4,1233.4 1235.6,1232.9 1236.8,1233.1 1238.0,1233.3 1239.2,1232.6 1240.4,1233.3 1241.6,1233.0 1242.8,1233.1 1244.0,1233.1 1245.2,1232.7 1245.5,1233.1" fill="none" stroke="#3a3a3a" stroke-width="2.2" stroke-linejoin="round"/>
<polyline points="680.0,1215.1 681.2,1213.9 682.4,1214.7 683.6,1215.1 684.8,1215.6 686.0,1214.6 687.2,1214.0 688.4,1213.7 689.6,1214.9 690.8,1215.5 692.0,1214.3 693.2,1212.9 694.4,1213.0 695.6,1215.1 696.8,1213.8 698.0,1212.0 699.2,1213.3 700.4,1212.3 701.6,1212.7 702.8,1212.7 704.0,1212.4 705.2,1213.4 706.4,1212.8 706.5,1212.8 707.6,1213.1 708.8,1213.3 710.0,1211.1 711.2,1212.2 712.4,1211.5 713.6,1212.1 714.8,1211.0 716.0,1212.1 717.2,1211.9 718.4,1211.6 719.6,1210.9 720.8,1211.4 722.0,1210.7 723.2,1210.4 724.4,1211.6 725.6,1210.4 726.8,1212.2 728.0,1211.8 729.2,1209.4 730.4,1211.2 731.6,1209.9 732.8,1210.8 734.0,1210.7 735.2,1208.9 736.4,1210.3 737.6,1210.2 738.0,1210.4 738.8,1209.3 740.0,1210.9 741.2,1209.2 742.4,1209.8 743.6,1209.3 744.8,1211.1 746.0,1210.3 747.2,1211.8 748.4,1210.2 749.6,1210.3 750.8,1210.2 752.0,1208.9 753.2,1209.3 754.4,1210.4 755.6,1208.8 756.8,1209.2 758.0,1208.9 759.2,1209.4 760.4,1208.5 761.6,1208.6 762.8,1208.8 764.0,1208.6 765.2,1207.7 766.4,1209.0 767.6,1207.1 768.8,1207.0 769.5,1208.0 770.0,1208.8 771.2,1207.5 772.4,1206.9 773.6,1206.6 774.8,1207.8 776.0,1206.4 777.2,1206.1 778.4,1207.6 779.6,1205.9 780.8,1206.5 782.0,1206.6 783.2,1206.1 784.4,1206.3 785.6,1207.3 786.8,1205.6 788.0,1204.8 789.2,1204.2 790.4,1205.4 791.6,1205.1 792.8,1205.5 794.0,1204.7 795.2,1204.5 796.4,1204.1 797.6,1204.1 798.8,1204.6 800.0,1203.9 801.0,1204.1 801.2,1205.7 802.4,1204.3 803.6,1202.4 804.8,1205.0 806.0,1203.6 807.2,1202.4 808.4,1203.7 809.6,1202.8 810.8,1202.1 812.0,1201.9 813.2,1201.4 814.4,1202.0 815.6,1202.7 816.8,1201.3 818.0,1201.7 819.2,1202.8 820.4,1199.9 821.6,1200.9 822.8,1200.2 824.0,1199.4 825.2,1199.2 826.4,1199.8 827.6,1200.0 828.8,1198.9 830.0,1199.2 831.2,1199.5 832.4,1198.9 832.5,1198.6 833.6,1198.8 834.8,1198.5 836.0,1199.4 837.2,1198.1 838.4,1197.4 839.6,1197.6 840.8,1195.9 842.0,1196.1 843.2,1196.8 844.4,1196.3 845.6,1196.8 846.8,1195.1 848.0,1193.6 849.2,1196.1 850.4,1195.1 851.6,1193.0 852.8,1194.7 854.0,1193.2 855.2,1191.4 856.4,1192.2 857.6,1191.8 858.8,1193.3 860.0,1191.0 861.2,1191.2 862.4,1190.8 863.6,1190.5 864.0,1190.7 864.8,1190.7 866.0,1191.2 867.2,1190.6 868.4,1189.0 869.6,1188.6 870.8,1189.4 872.0,1188.5 873.2,1188.3 874.4,1187.0 875.0,1188.3 875.6,1188.9 876.8,1186.8 878.0,1187.9 879.2,1187.6 880.4,1183.8 881.6,1184.6 882.8,1184.0 884.0,1184.1 885.2,1182.6 886.4,1181.7 887.6,1181.0 888.8,1181.9 890.0,1181.4 891.2,1178.4 892.4,1177.4 893.6,1179.9 894.8,1176.3 896.0,1176.3 897.0,1176.5 897.2,1176.9 898.4,1177.1 899.6,1176.4 900.8,1175.1 902.0,1176.1 903.2,1175.8 904.4,1177.0 905.6,1175.3 906.8,1174.0 908.0,1174.2 909.2,1176.2 910.4,1174.4 911.6,1173.0 912.8,1174.2 914.0,1174.6 915.2,1175.4 916.4,1173.4 917.6,1174.7 918.8,1174.7 920.0,1173.2 921.2,1173.4 922.2,1173.4 922.4,1174.8 923.6,1173.8 924.8,1173.0 926.0,1173.2 927.2,1171.7 928.4,1171.2 929.6,1169.9 930.8,1170.1 932.0,1169.3 933.2,1171.0 934.4,1167.8 935.6,1168.3 936.8,1167.6 938.0,1165.5 939.2,1165.9 940.4,1162.3 941.6,1163.5 942.8,1163.4 944.0,1159.9 945.2,1160.2 945.9,1160.8 946.4,1160.3 947.6,1159.0 948.8,1159.0 950.0,1158.3 951.2,1158.8 952.4,1158.0 953.6,1156.9 954.8,1156.0 956.0,1156.0 957.2,1156.6 958.4,1155.2 959.6,1154.8 960.8,1153.5 962.0,1151.8 963.2,1151.5 964.4,1151.8 965.6,1150.4 966.8,1148.5 968.0,1146.8 969.2,1147.0 969.5,1146.6 970.4,1145.1 971.6,1142.8 972.8,1140.5 974.0,1137.1 975.2,1134.0 976.4,1130.1 977.4,1126.1 977.6,1126.1 978.8,1120.8 980.0,1116.0 981.2,1111.2 982.4,1105.0 983.6,1100.3 983.7,1099.4 984.8,1093.9 986.0,1087.7 987.2,1084.7 988.4,1078.0 988.4,1078.6 989.6,1070.8 990.8,1067.1 992.0,1059.8 993.2,1052.7 994.4,1046.5 994.7,1045.4 995.6,1040.9 996.8,1035.1 998.0,1029.1 999.2,1026.6 999.4,1024.9 1000.4,1021.7 1001.6,1018.0 1002.8,1013.7 1003.3,1015.4 1004.0,1015.8 1005.2,1019.6 1006.4,1024.9 1007.3,1028.0 1007.6,1029.6 1008.8,1031.4 1010.0,1034.2 1011.2,1037.4 1012.0,1040.6 1012.4,1042.6 1013.6,1046.1 1014.4,1050.0 1014.8,1052.7 1016.0,1056.7 1017.2,1064.9 1018.4,1070.3 1019.6,1076.2 1019.9,1078.4 1020.8,1083.7 1022.0,1090.6 1023.0,1094.6 1023.2,1096.2 1024.4,1102.2 1025.6,1105.0 1026.8,1108.8 1028.0,1113.1 1029.2,1116.7 1030.4,1120.8 1031.6,1123.7 1032.5,1126.1 1032.8,1127.1 1034.0,1126.7 1035.2,1129.9 1036.4,1134.7 1037.6,1135.6 1038.8,1136.5 1040.0,1137.3 1041.1,1137.2 1041.2,1137.7 1042.4,1137.2 1043.6,1135.8 1044.8,1136.4 1046.0,1135.4 1047.2,1134.9 1048.4,1134.3 1049.6,1134.3 1050.8,1133.5 1052.0,1134.0 1053.2,1131.7 1054.4,1132.4 1055.6,1134.0 1056.1,1132.4 1056.8,1133.4 1058.0,1133.4 1059.2,1133.6 1060.4,1133.1 1061.6,1131.4 1062.8,1132.4 1064.0,1132.4 1065.2,1131.5 1066.4,1132.5 1067.6,1132.0 1068.1,1133.1 1068.8,1133.6 1070.0,1134.7 1071.2,1136.4 1072.4,1138.8 1073.6,1142.1 1074.8,1145.0 1076.0,1147.3 1076.8,1148.8 1077.2,1148.9 1078.4,1151.0 1079.6,1152.3 1080.8,1153.4 1082.0,1153.6 1083.2,1154.7 1084.4,1156.5 1085.6,1156.9 1086.8,1157.9 1088.0,1156.7 1089.2,1157.4 1089.4,1159.8 1090.4,1160.8 1091.6,1162.4 1092.8,1162.6 1094.0,1162.9 1095.2,1163.4 1096.4,1162.8 1097.6,1165.4 1098.8,1164.8 1100.0,1166.3 1100.4,1166.1 1101.2,1166.8 1102.4,1168.0 1103.6,1167.5 1104.8,1168.3 1106.0,1168.6 1107.2,1169.7 1108.4,1172.1 1109.6,1171.1 1110.8,1172.9 1112.0,1173.1 1113.2,1173.4 1114.4,1173.7 1115.6,1172.3 1116.1,1173.2 1116.8,1174.5 1118.0,1172.5 1119.2,1173.0 1120.4,1172.3 1121.6,1173.1 1122.8,1171.7 1124.0,1173.8 1125.2,1172.0 1126.4,1170.8 1127.6,1173.5 1128.8,1172.7 1130.0,1172.2 1131.2,1172.2 1131.9,1171.7 1132.4,1171.5 1133.6,1172.3 1134.8,1172.5 1136.0,1172.5 1137.2,1171.9 1138.4,1171.3 1139.6,1171.5 1140.8,1172.6 1141.3,1171.7 1142.0,1171.4 1143.2,1171.4 1144.4,1173.1 1145.6,1173.0 1146.8,1173.3 1148.0,1172.1 1149.2,1173.4 1150.4,1173.8 1151.6,1175.0 1152.8,1174.0 1154.0,1177.1 1155.2,1176.8 1156.4,1177.5 1157.6,1176.7 1158.8,1178.2 1160.0,1179.8 1160.2,1178.7 1161.2,1179.3 1162.4,1180.0 1163.6,1179.2 1164.8,1180.8 1166.0,1180.2 1167.2,1181.9 1168.4,1181.6 1169.6,1181.7 1170.8,1183.6 1172.0,1182.9 1173.2,1183.7 1174.4,1182.0 1175.6,1182.8 1176.0,1183.5 1176.8,1184.6 1178.0,1184.2 1179.2,1185.3 1180.4,1184.3 1181.6,1185.8 1182.8,1185.2 1184.0,1186.9 1185.2,1186.8 1186.4,1187.1 1187.6,1188.2 1188.8,1190.2 1190.0,1188.3 1191.2,1189.1 1191.7,1189.8 1192.4,1189.7 1193.6,1192.0 1194.8,1191.1 1196.0,1191.5 1197.2,1192.1 1198.4,1193.8 1199.6,1193.3 1200.8,1193.6 1202.0,1193.8 1203.2,1192.6 1204.4,1193.6 1205.6,1196.0 1206.8,1195.8 1207.5,1195.3 1208.0,1196.0 1209.2,1195.3 1210.4,1196.4 1211.6,1195.7 1212.8,1197.1 1214.0,1196.5 1215.2,1197.2 1216.4,1198.1 1217.6,1197.7 1218.8,1198.8 1220.0,1198.9 1221.2,1199.1 1222.4,1200.2 1223.2,1199.2 1223.6,1197.9 1224.8,1200.0 1226.0,1200.5 1227.2,1201.6 1228.4,1200.8 1229.6,1201.0 1230.8,1199.8 1232.0,1201.4 1233.2,1201.5 1234.4,1200.2 1235.6,1200.5 1236.8,1201.3 1238.0,1201.8 1239.2,1199.2 1240.4,1202.0 1241.6,1202.2 1242.8,1202.0 1244.0,1202.5 1245.2,1202.8 1245.5,1202.4" fill="none" stroke="#e8343f" stroke-width="2.4" stroke-linejoin="round"/>
<polyline points="680.0,1131.7 681.2,1133.3 682.4,1129.1 683.6,1131.3 684.8,1132.2 686.0,1132.5 687.2,1131.7 688.4,1132.4 689.6,1131.1 690.8,1131.3 692.0,1130.8 693.2,1129.5 694.4,1129.6 695.6,1130.7 696.8,1129.7 698.0,1131.3 699.2,1131.2 700.4,1131.6 701.6,1129.7 702.8,1131.0 704.0,1128.7 705.2,1128.6 706.4,1129.4 706.5,1129.3 707.6,1127.7 708.8,1127.4 710.0,1129.3 711.2,1128.0 712.4,1129.8 713.6,1128.9 714.8,1128.7 716.0,1128.5 717.2,1129.0 718.4,1127.9 719.6,1128.9 720.8,1127.2 722.0,1127.4 723.2,1126.8 724.4,1127.9 725.6,1127.2 726.8,1126.3 728.0,1128.9 729.2,1126.5 730.4,1126.6 731.6,1127.0 732.8,1128.2 734.0,1126.3 735.2,1127.0 736.4,1126.3 737.6,1124.7 738.0,1126.1 738.8,1127.0 740.0,1125.7 741.2,1125.9 742.4,1124.4 743.6,1124.3 744.8,1125.4 746.0,1126.3 747.2,1125.2 748.4,1125.9 749.6,1126.4 750.8,1125.6 752.0,1126.0 753.2,1126.8 754.4,1124.2 755.6,1126.0 756.8,1123.5 758.0,1125.6 759.2,1125.3 760.4,1124.6 761.6,1124.0 762.8,1124.9 764.0,1124.5 765.2,1125.0 766.4,1123.9 767.6,1125.2 768.8,1123.7 769.5,1124.6 770.0,1124.2 771.2,1125.7 772.4,1123.0 773.6,1123.9 774.8,1125.3 776.0,1123.4 777.2,1122.7 778.4,1124.0 779.6,1123.3 780.8,1124.3 782.0,1122.4 783.2,1123.3 784.4,1123.6 785.6,1123.8 786.8,1121.6 788.0,1123.8 789.2,1121.4 790.4,1120.7 791.6,1121.0 792.8,1121.9 794.0,1121.3 795.2,1121.8 796.4,1121.7 797.6,1121.4 798.8,1120.7 800.0,1122.5 801.0,1120.6 801.2,1118.9 802.4,1119.9 803.6,1119.1 804.8,1117.6 806.0,1119.2 807.2,1119.0 808.4,1117.3 809.6,1120.2 810.8,1120.5 812.0,1120.2 813.2,1118.4 814.4,1118.9 815.6,1117.5 816.8,1118.6 818.0,1117.6 819.2,1118.4 820.4,1117.5 821.6,1118.6 822.8,1118.3 824.0,1118.5 825.2,1115.6 826.4,1115.2 827.6,1117.1 828.8,1116.0 830.0,1116.7 831.2,1116.4 832.4,1116.1 832.5,1115.9 833.6,1116.2 834.8,1116.0 836.0,1114.4 837.2,1116.7 838.4,1115.0 839.6,1115.7 840.8,1114.7 842.0,1115.4 843.2,1114.1 844.4,1114.0 845.6,1113.7 846.8,1112.6 848.0,1112.5 849.2,1112.7 850.4,1112.5 851.6,1111.4 852.8,1114.3 854.0,1110.9 855.2,1111.3 856.4,1113.7 857.6,1110.4 858.8,1111.5 860.0,1111.2 861.2,1110.1 862.4,1108.6 863.6,1108.2 864.0,1109.6 864.8,1109.8 866.0,1107.1 867.2,1108.9 868.4,1107.8 869.6,1109.0 870.8,1107.9 872.0,1106.7 873.2,1106.7 874.4,1106.7 875.0,1106.5 875.6,1109.2 876.8,1106.2 878.0,1105.6 879.2,1105.7 880.4,1104.5 881.6,1104.7 882.8,1103.9 884.0,1103.1 885.2,1101.8 886.4,1102.2 887.6,1102.4 888.8,1101.1 890.0,1102.0 891.2,1101.1 892.4,1099.7 893.6,1101.1 894.8,1098.1 896.0,1100.0 897.0,1098.6 897.2,1098.4 898.4,1098.4 899.6,1099.2 900.8,1099.6 902.0,1098.5 903.2,1098.2 904.4,1098.7 905.6,1098.0 906.8,1096.5 908.0,1097.4 909.2,1097.5 910.4,1096.0 911.6,1097.7 912.8,1096.6 914.0,1097.9 915.2,1095.7 916.4,1096.1 917.6,1095.5 918.8,1098.0 920.0,1097.8 921.2,1097.8 922.2,1096.2 922.4,1097.1 923.6,1096.9 924.8,1094.2 926.0,1095.9 927.2,1094.8 928.4,1094.7 929.6,1093.5 930.8,1095.5 932.0,1094.1 933.2,1092.1 934.4,1093.6 935.6,1092.6 936.8,1091.2 938.0,1091.4 939.2,1090.5 940.4,1088.5 941.6,1088.7 942.8,1090.2 944.0,1089.5 945.2,1088.9 945.9,1088.3 946.4,1087.5 947.6,1087.5 948.8,1087.5 950.0,1085.3 951.2,1084.4 952.4,1085.7 953.6,1083.9 954.8,1082.7 956.0,1081.6 957.2,1080.9 958.4,1082.3 959.6,1081.1 960.0,1080.0 960.8,1078.4 962.0,1080.7 963.2,1080.2 964.4,1079.4 965.6,1078.7 966.8,1075.6 968.0,1075.6 969.2,1076.7 969.5,1076.0 970.4,1075.6 971.6,1073.8 972.8,1072.4 974.0,1072.1 975.2,1069.5 975.8,1069.0 976.4,1068.3 977.6,1066.1 978.8,1064.5 980.0,1061.9 981.2,1056.3 982.4,1053.9 983.6,1050.0 984.8,1047.4 985.2,1045.4 986.0,1043.3 987.2,1038.4 988.4,1032.7 989.6,1024.9 990.6,1020.0 990.8,1017.6 992.0,1007.6 992.8,1002.4 993.2,1000.3 994.4,999.9 995.0,999.7 995.6,994.0 996.8,977.5 996.8,977.4 998.0,968.3 999.0,962.3 999.2,962.9 1000.4,957.3 1001.3,954.3 1001.6,953.6 1002.8,948.2 1003.0,949.0 1003.5,923.6 1004.0,928.7 1005.2,947.4 1005.3,948.1 1006.4,937.6 1007.0,933.0 1007.6,938.5 1008.8,950.8 1008.8,949.2 1010.0,935.0 1011.1,922.3 1011.2,921.4 1012.4,935.5 1013.3,944.5 1013.6,945.9 1014.8,953.2 1016.0,958.8 1016.0,959.5 1017.2,964.9 1018.4,971.4 1019.5,978.4 1019.6,978.4 1020.8,983.7 1022.0,989.4 1023.2,993.9 1023.5,995.3 1024.4,1000.0 1025.6,1006.5 1025.8,1005.0 1026.8,1008.2 1028.0,1012.4 1028.4,1014.9 1029.2,1018.0 1030.4,1023.6 1030.5,1024.0 1031.6,1028.0 1032.8,1033.8 1034.0,1041.7 1035.2,1045.9 1036.4,1048.4 1037.2,1053.2 1037.6,1055.3 1038.8,1058.6 1040.0,1057.8 1041.2,1063.3 1042.4,1066.4 1043.6,1068.0 1044.8,1068.4 1045.9,1069.0 1046.0,1068.6 1047.2,1068.5 1048.4,1068.8 1049.6,1068.1 1050.8,1066.4 1052.0,1066.4 1053.2,1063.5 1054.4,1062.8 1055.6,1062.4 1056.8,1062.1 1057.7,1061.1 1058.0,1062.1 1059.2,1060.7 1060.4,1058.8 1061.6,1059.2 1062.8,1057.7 1064.0,1057.1 1065.2,1056.2 1066.4,1058.6 1067.6,1057.9 1068.8,1055.4 1068.9,1056.9 1070.0,1058.0 1071.2,1057.4 1072.4,1059.3 1073.6,1062.3 1074.8,1061.9 1076.0,1063.7 1077.2,1066.1 1078.4,1065.8 1079.6,1067.1 1079.9,1068.7 1080.8,1069.8 1082.0,1072.4 1083.2,1072.6 1084.4,1074.1 1085.6,1077.6 1086.8,1078.9 1088.0,1081.6 1089.2,1082.5 1090.4,1083.7 1091.0,1084.4 1091.6,1085.0 1092.8,1084.9 1094.0,1085.6 1095.2,1088.9 1096.4,1091.1 1097.6,1089.9 1098.8,1087.9 1100.0,1090.1 1101.2,1091.7 1102.4,1089.6 1103.6,1091.2 1104.8,1091.8 1105.1,1092.3 1106.0,1092.0 1107.2,1094.3 1108.4,1093.5 1109.6,1094.3 1110.8,1096.8 1112.0,1094.9 1113.2,1094.3 1114.4,1097.2 1115.6,1098.7 1116.8,1097.2 1117.7,1097.0 1118.0,1095.8 1119.2,1096.2 1120.4,1098.4 1121.6,1098.2 1122.8,1097.5 1124.0,1096.3 1125.2,1095.7 1126.4,1095.8 1127.6,1095.6 1128.8,1097.2 1130.0,1095.8 1131.2,1096.0 1132.4,1097.1 1133.6,1097.0 1134.8,1096.4 1136.0,1096.7 1136.6,1096.2 1137.2,1094.3 1138.4,1096.0 1139.6,1095.6 1140.8,1095.6 1142.0,1096.1 1143.2,1095.3 1144.4,1096.9 1145.6,1095.5 1146.8,1095.7 1148.0,1095.8 1149.2,1095.3 1150.4,1096.0 1151.6,1096.1 1152.4,1095.4 1152.8,1094.7 1154.0,1094.6 1155.2,1094.9 1156.4,1095.6 1157.6,1094.0 1158.8,1095.1 1160.0,1095.0 1161.2,1095.7 1162.4,1095.7 1163.6,1097.6 1164.8,1097.5 1166.0,1098.2 1167.2,1096.6 1168.1,1097.8 1168.4,1097.6 1169.6,1099.7 1170.8,1100.1 1172.0,1098.3 1173.2,1099.9 1174.4,1101.8 1175.6,1099.2 1176.8,1100.5 1178.0,1102.4 1179.2,1102.3 1180.4,1101.1 1181.6,1104.0 1182.8,1103.9 1183.9,1103.3 1184.0,1102.1 1185.2,1103.5 1186.4,1105.3 1187.6,1104.8 1188.8,1105.4 1190.0,1104.8 1191.2,1106.8 1192.4,1105.4 1193.6,1106.8 1194.8,1106.5 1196.0,1105.6 1197.2,1108.2 1198.4,1105.9 1199.6,1106.7 1200.8,1107.9 1202.0,1106.7 1203.2,1106.6 1204.4,1108.6 1205.6,1108.6 1206.8,1109.1 1207.5,1109.6 1208.0,1111.9 1209.2,1109.7 1210.4,1112.9 1211.6,1111.2 1212.8,1111.3 1214.0,1109.3 1215.2,1110.8 1216.4,1113.0 1217.6,1113.7 1218.8,1112.8 1220.0,1114.3 1221.2,1115.3 1222.4,1114.3 1223.2,1115.1 1223.6,1114.2 1224.8,1115.2 1226.0,1116.1 1227.2,1116.9 1228.4,1115.7 1229.6,1116.9 1230.8,1116.9 1232.0,1117.5 1233.2,1118.9 1234.4,1119.4 1235.6,1118.0 1236.8,1118.1 1238.0,1118.3 1239.2,1118.8 1240.4,1119.1 1241.6,1119.6 1242.8,1119.6 1244.0,1119.3 1245.2,1119.4 1245.5,1120.6" fill="none" stroke="#1b5bd0" stroke-width="2.6" stroke-linejoin="round"/>
<line x1="371.5" y1="905" x2="371.5" y2="1205" stroke="#e05560" stroke-width="1.6" stroke-dasharray="2 4.5"/>
<line x1="428" y1="1019" x2="428" y2="1193" stroke="#e05560" stroke-width="1.6" stroke-dasharray="2 4.5"/>
<line x1="506" y1="1006" x2="506" y2="1199" stroke="#e05560" stroke-width="1.6" stroke-dasharray="2 4.5"/>
<line x1="897" y1="1078" x2="897" y2="1199" stroke="#e05560" stroke-width="1.6" stroke-dasharray="2 4.5"/>
<line x1="1004" y1="925" x2="1004" y2="1221" stroke="#e05560" stroke-width="1.6" stroke-dasharray="2 4.5"/>
<line x1="1069" y1="1051" x2="1069" y2="1224" stroke="#e05560" stroke-width="1.6" stroke-dasharray="2 4.5"/>
<rect x="454" y="831.5" width="138.5" height="64" fill="#fff" stroke="#000" stroke-width="2"/>
<line x1="455.5" y1="844.0" x2="494" y2="844.0" stroke="#333" stroke-width="2"/>
<text x="498" y="849.0" font-family="Liberation Serif, serif" font-size="16.1" fill="#111" text-anchor="start" >PLLA-0%</text>
<line x1="455.5" y1="864.2" x2="494" y2="864.2" stroke="#e8343f" stroke-width="2"/>
<text x="498" y="869.2" font-family="Liberation Serif, serif" font-size="16.1" fill="#111" text-anchor="start" >PLLA-400%</text>
<line x1="455.5" y1="884.4" x2="494" y2="884.4" stroke="#1b5bd0" stroke-width="2"/>
<text x="498" y="889.4" font-family="Liberation Serif, serif" font-size="16.1" fill="#111" text-anchor="start" >PLLA-1000%</text>
<rect x="1090" y="833" width="151" height="64" fill="#fff" stroke="#000" stroke-width="2"/>
<line x1="1091.5" y1="845.5" x2="1130" y2="845.5" stroke="#333" stroke-width="2"/>
<text x="1134" y="850.5" font-family="Liberation Serif, serif" font-size="16.1" fill="#111" text-anchor="start" >PLLA-F-0%</text>
<line x1="1091.5" y1="865.7" x2="1130" y2="865.7" stroke="#e8343f" stroke-width="2"/>
<text x="1134" y="870.7" font-family="Liberation Serif, serif" font-size="16.1" fill="#111" text-anchor="start" >PLLA-F-400%</text>
<line x1="1091.5" y1="885.9" x2="1130" y2="885.9" stroke="#1b5bd0" stroke-width="2"/>
<text x="1134" y="890.9" font-family="Liberation Serif, serif" font-size="16.1" fill="#111" text-anchor="start" >PLLA-F-1000%</text>
<text x="80" y="862" font-family="Liberation Serif, serif" font-size="45" fill="#111" text-anchor="start" >(b)</text>
<text x="715" y="862" font-family="Liberation Serif, serif" font-size="45" fill="#111" text-anchor="start" >(c)</text>
<text x="326" y="878.5" font-family="Liberation Serif, serif" font-size="19.4" fill="#111" text-anchor="start" >(200)/(110)α</text>
<text x="326" y="903.5" font-family="Liberation Serif, serif" font-size="19.4" fill="#111" text-anchor="start" >(200)β</text>
<text x="399" y="983.5" font-family="Liberation Serif, serif" font-size="19.4" fill="#111" text-anchor="start" >(203)α</text>
<text x="399" y="1007.5" font-family="Liberation Serif, serif" font-size="19.4" fill="#111" text-anchor="start" >(202)β</text>
<text x="430" y="1041" font-family="Liberation Serif, serif" font-size="19.4" fill="#111" text-anchor="start" >(222)β</text>
<text x="490" y="1029" font-family="Liberation Serif, serif" font-size="19.4" fill="#111" text-anchor="start" >(105)α</text>
<text x="972" y="897.5" font-family="Liberation Serif, serif" font-size="19.4" fill="#111" text-anchor="start" >(200)/(110)α</text>
<text x="972" y="921.5" font-family="Liberation Serif, serif" font-size="19.4" fill="#111" text-anchor="start" >(200)β</text>
<text x="1042" y="1012.5" font-family="Liberation Serif, serif" font-size="19.4" fill="#111" text-anchor="start" >(203)α</text>
<text x="1042" y="1037" font-family="Liberation Serif, serif" font-size="19.4" fill="#111" text-anchor="start" >(202)β</text>
<text x="1080" y="1081" font-family="Liberation Serif, serif" font-size="19.4" fill="#111" text-anchor="start" >(222)β (105)α</text>
<text x="886" y="1065" font-family="Liberation Serif, serif" font-size="19.4" fill="#111" text-anchor="start" >(101)α</text>
<text x="955" y="1175" font-family="Liberation Serif, serif" font-size="19.4" fill="#111" text-anchor="start" >(200)/(110)α</text>
<text x="323" y="1340" font-family="Liberation Serif, serif" font-size="23.5" fill="#111" text-anchor="middle" >2 Theta (°)</text>
<text x="974" y="1340" font-family="Liberation Serif, serif" font-size="23.5" fill="#111" text-anchor="middle" >2 Theta (°)</text>
<text x="0" y="0" transform="translate(19.8,1046.5) rotate(-90)" font-family="Liberation Serif, serif" font-size="23.5" text-anchor="middle" fill="#111">Intensity</text>
<text x="0" y="0" transform="translate(658.7,1047.3) rotate(-90)" font-family="Liberation Serif, serif" font-size="23.5" text-anchor="middle" fill="#111">Intensity</text>
</svg>
</body></html>
